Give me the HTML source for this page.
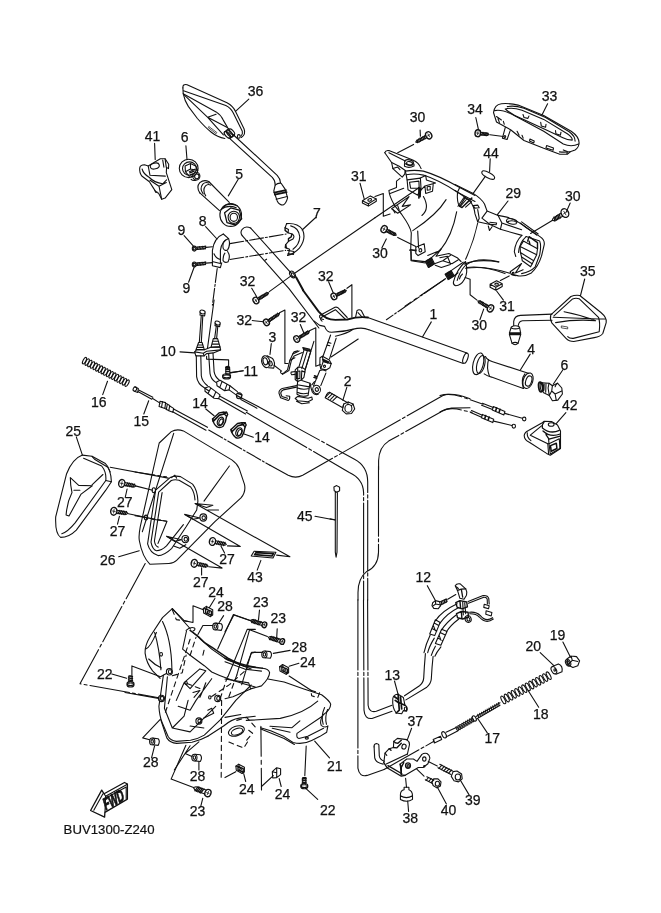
<!DOCTYPE html>
<html><head><meta charset="utf-8"><title>BUV1300-Z240</title>
<style>
html,body{margin:0;padding:0;background:#fff}
svg{display:block;will-change:transform;transform:translateZ(0)}
text{font-family:"Liberation Sans",sans-serif;font-size:14px;fill:#111;stroke:#111;stroke-width:0.25px;text-anchor:middle}
</style></head><body>
<svg width="661" height="913" viewBox="0 0 661 913">
<rect width="661" height="913" fill="#fff"/>
<g fill="none" stroke="#111" stroke-width="1.1" stroke-linecap="round" stroke-linejoin="round">
<text x="63.6" y="833.6" style="text-anchor:start;font-size:13.2px;stroke-width:0.2px" fill="#111">BUV1300-Z240</text>
<path d="M 250.7 228.1 Q 245.3 225.3 242.2 229.3 Q 239.8 232.6 242.2 235.6"/>
<path d="M 250.7 228.1 L 291.4 273.3"/>
<path d="M 242.2 235.6 L 289 288.7 L 318.9 328"/>
<path d="M 296.1 277.3 L 303.2 290.2" stroke-width="2.0"/>
<ellipse cx="292.5" cy="274.5" rx="2.4" ry="3.7" transform="rotate(-35 292.5 274.5)"/>
<ellipse cx="292.9" cy="274.9" rx="1.2" ry="2.2" transform="rotate(-35 292.9 274.9)"/>
<path d="M 265 260.2 L 266.6 259.2"/>
<path d="M 302.8 290 L 318.7 311.6 Q 325.6 319.9 335.4 319.9 L 347.2 319.5 Q 359 316.2 367.9 317.5" stroke-width="1.9"/>
<path d="M 314.2 321.1 L 319.7 325.4 L 324.6 326.4 Q 326.6 332.3 331.5 332.3 Q 345.2 331.7 357 328.4 Q 363.9 327.4 368.8 329.7"/>
<path d="M 335.4 336.2 Q 347.2 333.7 353.1 329.3"/>
<path d="M 323.6 319.5 Q 318.7 318.5 319.7 315.6 L 335 307.3 Q 337.4 306.7 338.9 308.7 L 347.2 317.5"/>
<path d="M 322 321.1 Q 319.7 319.5 321.2 317.5 L 335.4 309.7 L 345.6 319.5"/>
<path d="M 355.5 317.5 L 357 310.7 Q 359 308.7 361.4 310.7 L 364.9 317.5"/>
<path d="M 358 312.6 L 362.5 317.5"/>
<path d="M 367.7 317.5 L 400 328.9 L 466.9 352.9"/>
<path d="M 368.9 329.7 L 400 340.7 L 463.3 363.4"/>
<ellipse cx="465.5" cy="358.2" rx="2.2" ry="5.3" transform="rotate(20 465.5 358.2)"/>
<path d="M 431.3 321.9 L 422.6 336.8"/>
<ellipse cx="478.2" cy="363.8" rx="5.1" ry="11.1" transform="rotate(14 478.2 363.8)"/>
<ellipse cx="480.8" cy="364.5" rx="3.9" ry="9.2" transform="rotate(14 480.8 364.5)"/>
<path d="M 485.4 356.5 Q 487.1 360.1 492.7 361.8 L 529 373.4"/>
<path d="M 484.2 373.9 Q 486.6 375.9 491.5 377.1 L 523.4 388.5"/>
<path d="M 488.6 359.4 Q 486.1 367.4 489.5 376.4"/>
<ellipse cx="528" cy="380.7" rx="4.8" ry="8" transform="rotate(18 528 380.7)"/>
<ellipse cx="528.7" cy="381" rx="2.9" ry="5.3" transform="rotate(18 528.7 381)"/>
<path d="M 524.9 373.9 Q 520.5 379.5 523.4 388.5"/>
<path d="M 530.2 354.1 L 520.5 369.8"/>
<path d="M 550.8 314.9 L 570.9 296.5 Q 575 294.8 579.8 295.5 L 600.9 312.5 Q 607.2 317.8 606.2 322.6 L 602.8 333.5 Q 600.4 336.7 594.3 337.6 L 573.8 341.5 Q 568.9 341.5 566 338.4 L 552 323.1 Q 549.6 319 550.8 314.9 Z"/>
<path d="M 553.9 315.8 L 572.6 298.9 Q 575.7 297.7 579.1 298.7 L 598.5 317.3 Q 600.4 322.6 599.2 331.8 L 573.3 338.4 Q 569.4 338.6 567.7 336.7"/>
<path d="M 553.2 317.3 L 598.5 319 M 564.1 311.7 Q 581 314.9 595.6 320.7 M 555.6 322.6 Q 576.2 319 595.6 320.7 M 598.5 319 L 605.2 319"/>
<path d="M 561.7 326 L 567.7 327 L 567.7 328.9 L 561.7 327.9 Z" stroke-width="0.7"/>
<path d="M 552 314.1 L 520.5 315.4 Q 514.5 315.8 513.7 321.4 L 513.7 325.5"/>
<path d="M 552 320.2 L 522.5 320.7 Q 518.8 321.2 518.3 325.5"/>
<path d="M 511.3 327 Q 515.2 324.6 519.5 327 L 520.5 332.3 L 520.5 335.2 L 518.1 343.2 Q 515.2 346.3 512 343.2 L 509.6 335.2 L 509.6 332.3 Z"/>
<path d="M 509.6 333 L 520.5 333 M 509.6 334.5 L 520.5 334.5" stroke-width="1.6"/>
<path d="M 511.3 327.9 Q 515.2 329.9 519.5 327.9 M 512 343.2 Q 515.2 341.5 518.1 343.2"/>
<path d="M 584.7 279 L 580.5 295.5"/>
<ellipse cx="540.6" cy="387" rx="1.9" ry="4.8" transform="rotate(-8 540.6 387)" stroke-width="1.8"/>
<ellipse cx="542" cy="387" rx="1.7" ry="4.4" transform="rotate(-8 542 387)"/>
<path d="M 542.4 382.9 L 549 383.2 L 552.4 385.8 L 557.5 383.2 L 561.8 388 L 562.4 394 L 557.8 400.1 L 552.4 400.8 L 549.3 395.5 L 543.2 392.6"/>
<path d="M 549 383.2 L 548.1 388 L 549.3 395.5 M 552.4 385.8 L 551.7 391 L 555.1 394 L 561.8 391 M 551.7 391 L 549.3 395.5 M 555.1 394 L 556.3 400.3 M 544.2 384.4 L 543.6 391 M 546 383.8 L 545.7 392.2"/>
<path d="M 557.5 383.2 Q 555.7 384.4 555.1 386.8"/>
<path d="M 562.9 369.8 L 553.2 384.3"/>
<path d="M 182.9 87.9 Q 182.5 83.8 187.1 84.7 L 227 102.8 Q 233.1 106.1 235.8 111.9 L 244 128.8 Q 246.2 134.3 241.3 137.5"/>
<path d="M 182.9 87.9 L 183.2 93.7 Q 184.7 101 188.3 106.4 L 197.4 118.5 Q 205.3 127.6 211.3 132.2 Q 217.4 137.1 224.9 138.5"/>
<path d="M 183.5 90.7 L 225.8 105.4 Q 230.9 107.8 233.3 112.9 L 242.3 131.3 Q 243 133.9 241 135.9"/>
<path d="M 183.2 93.7 L 216.1 111.9 Q 221 114.9 223.4 120.4 L 228.3 128.8"/>
<path d="M 184.4 95.2 L 207.7 117.3 L 227.3 127.6 M 207.7 117.3 L 216.1 114.3 M 207.7 117.3 L 223.4 134.9"/>
<path d="M 209.1 126.7 L 216.8 132.5 L 216.1 133.7 L 208.6 127.9 Z" stroke-width="0.7"/>
<ellipse cx="227.4" cy="134.8" rx="2" ry="4.1" transform="rotate(-42 227.4 134.8)" stroke-width="1.3"/>
<ellipse cx="229.6" cy="133.4" rx="2" ry="4.1" transform="rotate(-42 229.6 133.4)" stroke-width="1.3"/>
<ellipse cx="231.8" cy="132" rx="1.8" ry="3.7" transform="rotate(-42 231.8 132)"/>
<path d="M 224.7 132 L 229 128.5 M 230.2 138.3 L 234.5 135.2"/>
<ellipse cx="238.8" cy="136.4" rx="1.4" ry="1.8"/>
<path d="M 232.5 134 L 277.2 175.3 Q 280.1 178.3 280.5 182.8"/>
<path d="M 229 137.9 L 272.3 177.3 Q 275.2 180.2 275.2 185.1"/>
<path d="M 275.2 185.1 Q 277.8 182.8 281.1 183.2 L 285.1 189.1 L 287.6 197.9 Q 286 203.8 283.1 205 M 275.2 185.1 L 273.8 191 L 277.2 200.9 Q 279.2 205 283.1 205"/>
<path d="M 274.2 192.6 L 286 190.1 M 274.8 194.6 L 286.6 192.2" stroke-width="1.7"/>
<path d="M 276.2 199.3 L 287.2 196.5"/>
<path d="M 139.7 168.1 Q 140.2 164.8 144.5 164.8 L 148.2 166 L 160.3 158.8 L 165.1 158.8 L 168.7 164.2 L 168.5 168.6 L 166.6 167.4 L 166.3 172.7 L 171.8 189.6 L 165.1 198.1 L 161.7 199.3 L 158.6 193.3 L 156 192 L 153.6 188.4 L 149.4 181.8 L 142.1 176.3 Q 139.2 172.9 139.7 168.1 Z"/>
<ellipse cx="154.8" cy="166" rx="4.6" ry="2.9" transform="rotate(-15 154.8 166)"/>
<path d="M 148.2 166 L 150 175.3 L 165.3 176.1 M 142.1 169 Q 143.3 173.9 149.4 177.5 M 149.4 177.5 Q 154.2 182.6 162.7 183.8 L 166.6 179.9 M 150 180.2 L 159 186.2 L 166.3 182.6 M 159 186.2 L 161.7 199.3 M 165.1 158.8 L 166.3 167.4 M 162.7 160 L 163.9 167.2 M 154.8 190.6 L 155.7 192.3 L 156.9 191.8"/>
<ellipse cx="188.7" cy="168.4" rx="9.4" ry="9.2"/>
<ellipse cx="189.5" cy="168.6" rx="7" ry="6.7"/>
<path d="M 185.1 166 L 190.5 163.6 L 195.6 166 L 197.8 170.5 M 185.1 166 L 185.4 171.7 L 189.3 176.3 M 190.5 163.6 L 190.5 169 L 185.4 171.7 M 190.5 169 L 197.8 170.5"/>
<path d="M 189.3 171.7 L 195.4 169 M 191.1 179.3 Q 192.9 181.1 196 180.2"/>
<ellipse cx="196.3" cy="176.1" rx="3.6" ry="3.9"/>
<ellipse cx="196.8" cy="176.3" rx="2.2" ry="2.4"/>
<path d="M 189.8 172.9 L 194.1 171.2 M 190.3 174.9 L 192.9 173.9 M 191 176.8 L 192.9 176.1" stroke-width="1.4"/>
<path d="M 199.8 192.9 Q 195.9 187 199.8 182.7 Q 203.8 179.2 208.7 181.5"/>
<path d="M 208.7 181.5 L 229.3 202.4 M 199.8 192.9 L 219.5 210.6"/>
<path d="M 203.2 193.9 Q 199.2 188.6 202.8 184.1 Q 205.7 181.5 208.7 183.1"/>
<path d="M 205.7 195.9 Q 202 190 205.5 185.9 Q 207.9 183.5 210.6 185.1"/>
<ellipse cx="230.7" cy="215" rx="10.8" ry="11.4"/>
<path d="M 222.4 207.7 Q 228.3 201.8 237.2 205.7 M 220.9 209.7 Q 227.4 204.3 236.2 207.7"/>
<path d="M 224.6 212.8 L 230.7 207.9 L 239.3 210.2 L 241.7 218.9 L 235.6 225 L 227 222.6 Z" stroke-width="1.3"/>
<ellipse cx="233.8" cy="217.3" rx="5.7" ry="6.1"/>
<ellipse cx="233.8" cy="217.3" rx="3.7" ry="4.1"/>
<path d="M 238.2 179.2 L 228.3 195.9"/>
<path d="M 154.6 143.4 L 155.2 159.5"/>
<path d="M 185.9 145.7 L 187 159.5"/>
<path d="M 248.8 99.2 L 235.5 111.3"/>
<path d="M 223.3 234 Q 214 237.9 212.4 250.4 L 212.4 265.8 L 220.4 267.6 L 221.7 262.9"/>
<path d="M 223.3 234 L 228.6 238.6 Q 221.5 241.3 220.4 250.4 L 220.4 262.9"/>
<path d="M 214 253.8 Q 215.8 258.3 220.4 259.5 M 213.1 261.7 L 220.4 263.5"/>
<path d="M 228.6 238.6 Q 230.8 244.7 227.6 249.9 Q 224.5 251.5 223.1 248.1 Q 222.2 242.4 225.4 240.2"/>
<path d="M 227.6 251.5 Q 230.8 256.1 228.1 261.7 Q 224.9 263.5 223.1 260.6 Q 222.7 256.1 224.9 253.1"/>
<path d="M 286.6 223.6 Q 297.5 222.7 302.5 229.5 Q 306.6 239 299.4 248.1 Q 294.1 253.8 287.6 255.4"/>
<path d="M 286.6 223.6 L 285.1 227.7 L 288.5 229.5 L 288 232.7 L 291.9 234 Q 295.3 235.6 293 239 L 288.5 241.3 L 285.7 244.7 L 286.6 248.1 L 289.6 249.3 L 288.5 253.8 L 287.6 255.4"/>
<path d="M 290.7 225.9 Q 298.7 227.7 299.8 236.8 Q 299.4 244.7 293 249.3"/>
<path d="M 285.1 227.7 L 285.1 230.4 L 288 232.7 M 285.7 244.7 L 285.3 247.7 L 286.6 248.1 M 291.9 234 L 291.2 236.8 L 288.5 238.6 L 288.5 241.3" stroke-width="1.4"/>
<path d="M 287.6 250.4 L 293.9 251.5 L 293.5 254.5 L 288 253.6"/>
<ellipse cx="194.3" cy="248.6" rx="2" ry="2.5"/>
<ellipse cx="194.3" cy="248.6" rx="1.1" ry="1.4"/>
<path d="M 196.3 247.2 L 205.6 246.3 M 196.3 249.5 L 205.6 248.6"/>
<path d="M 197.4 249.5 L 198 246.7"/>
<path d="M 198.9 249.4 L 199.5 246.6"/>
<path d="M 200.5 249.2 L 201.1 246.5"/>
<path d="M 202 249.1 L 202.6 246.3"/>
<path d="M 203.6 249 L 204.2 246.2"/>
<path d="M 205.1 248.8 L 205.7 246"/>
<ellipse cx="194.3" cy="264.5" rx="2" ry="2.5"/>
<ellipse cx="194.3" cy="264.5" rx="1.1" ry="1.4"/>
<path d="M 196.3 263.1 L 205.6 262.2 M 196.3 265.4 L 205.6 264.5"/>
<path d="M 197.4 265.4 L 198 262.6"/>
<path d="M 198.9 265.3 L 199.5 262.5"/>
<path d="M 200.5 265.1 L 201.1 262.3"/>
<path d="M 202 265 L 202.6 262.2"/>
<path d="M 203.6 264.8 L 204.2 262.1"/>
<path d="M 205.1 264.7 L 205.7 261.9"/>
<path d="M 206.1 247.4 L 212.4 246.8 M 229.9 243.6 L 286.2 234 M 206.1 263.1 L 212.4 262.6 M 229.9 259.5 L 285.7 250.4" stroke-dasharray="14 2 2 2"/>
<path d="M 217.2 268.5 L 212.4 305.1" stroke-dasharray="14 2 2 2"/>
<path d="M 205.6 226.6 L 217 239 M 184.1 235.6 L 193.2 245.8 M 188.6 282.2 L 194.3 266.7 M 315.7 217.5 L 302.1 230"/>
<ellipse cx="255.9" cy="300.5" rx="2.7" ry="3.4" transform="rotate(-31.6 255.9 300.5)" stroke-width="1.4"/>
<path d="M 255.1 299.2 L 256.7 301.8 M 254.8 301.2 L 256.9 299.9" stroke-width="0.8"/>
<path d="M 258.6 300.1 L 268.1 294 L 268.6 292.7 L 267.2 292.6 L 257.5 298.3"/>
<path d="M 259.8 299.6 L 259.1 297" stroke-width="1.25"/>
<path d="M 261.1 298.9 L 260.4 296.2" stroke-width="1.25"/>
<path d="M 262.4 298.1 L 261.7 295.4" stroke-width="1.25"/>
<path d="M 263.7 297.3 L 263 294.6" stroke-width="1.25"/>
<path d="M 265 296.5 L 264.3 293.8" stroke-width="1.25"/>
<path d="M 266.2 295.7 L 265.5 293.1" stroke-width="1.25"/>
<path d="M 267.5 294.9 L 266.8 292.3" stroke-width="1.25"/>
<ellipse cx="266.4" cy="322.3" rx="2.7" ry="3.4" transform="rotate(-33.7 266.4 322.3)" stroke-width="1.4"/>
<path d="M 265.5 321 L 267.2 323.6 M 265.4 323 L 267.4 321.6" stroke-width="0.8"/>
<path d="M 269.1 321.8 L 279 314.9 L 279.5 313.6 L 278.1 313.5 L 267.9 320"/>
<path d="M 270.3 321.3 L 269.5 318.7" stroke-width="1.25"/>
<path d="M 271.7 320.4 L 270.9 317.8" stroke-width="1.25"/>
<path d="M 273 319.5 L 272.2 316.9" stroke-width="1.25"/>
<path d="M 274.4 318.5 L 273.6 315.9" stroke-width="1.25"/>
<path d="M 275.8 317.6 L 275 315" stroke-width="1.25"/>
<path d="M 277.1 316.7 L 276.3 314.1" stroke-width="1.25"/>
<path d="M 278.5 315.8 L 277.7 313.2" stroke-width="1.25"/>
<ellipse cx="296.7" cy="339" rx="2.7" ry="3.4" transform="rotate(-31 296.7 339)" stroke-width="1.4"/>
<path d="M 295.9 337.7 L 297.5 340.3 M 295.7 339.6 L 297.7 338.4" stroke-width="0.8"/>
<path d="M 299.5 338.6 L 308.9 332.7 L 309.4 331.4 L 308 331.2 L 298.4 336.8"/>
<path d="M 300.7 338.2 L 300 335.5" stroke-width="1.25"/>
<path d="M 301.9 337.4 L 301.3 334.8" stroke-width="1.25"/>
<path d="M 303.2 336.6 L 302.5 334" stroke-width="1.25"/>
<path d="M 304.5 335.9 L 303.8 333.2" stroke-width="1.25"/>
<path d="M 305.8 335.1 L 305.1 332.4" stroke-width="1.25"/>
<path d="M 307.1 334.3 L 306.4 331.7" stroke-width="1.25"/>
<path d="M 308.4 333.6 L 307.7 330.9" stroke-width="1.25"/>
<ellipse cx="333.9" cy="296.4" rx="2.7" ry="3.4" transform="rotate(-25.9 333.9 296.4)" stroke-width="1.4"/>
<path d="M 333.3 295 L 334.6 297.7 M 332.8 296.9 L 335 295.8" stroke-width="0.8"/>
<path d="M 336.7 296.2 L 345.7 291.6 L 346.3 290.4 L 344.9 290.1 L 335.8 294.3"/>
<path d="M 337.9 295.9 L 337.5 293.2" stroke-width="1.25"/>
<path d="M 339.1 295.3 L 338.7 292.6" stroke-width="1.25"/>
<path d="M 340.3 294.7 L 339.9 292" stroke-width="1.25"/>
<path d="M 341.5 294.1 L 341 291.4" stroke-width="1.25"/>
<path d="M 342.7 293.6 L 342.2 290.9" stroke-width="1.25"/>
<path d="M 343.8 293 L 343.4 290.3" stroke-width="1.25"/>
<path d="M 345 292.4 L 344.6 289.7" stroke-width="1.25"/>
<path d="M 279.5 312.7 L 284.9 310 L 284.9 363.5 L 288 363.5"/>
<path d="M 309.4 330.8 L 315.8 327.8 L 315.8 366.2 L 320.3 364.4"/>
<path d="M 252.2 320.5 L 263.5 321.8 M 300.3 324.5 L 304 333.2 M 271.3 343.6 L 270 354.4 M 243.2 370.8 L 230.4 372.6"/>
<ellipse cx="265.8" cy="361.7" rx="4" ry="6" transform="rotate(-15 265.8 361.7)"/>
<path d="M 267.1 355.7 L 272.6 358.6 Q 275.8 362.6 273.7 368.1 L 268.6 367.7"/>
<ellipse cx="270.4" cy="363.5" rx="1.8" ry="2.5" transform="rotate(-15 270.4 363.5)"/>
<ellipse cx="265.3" cy="361.3" rx="2.2" ry="3.6" transform="rotate(-15 265.3 361.3)"/>
<path d="M 274 365.3 L 281.6 371.1" stroke-dasharray="12 2 2 2"/>
<path d="M 280.6 371.5 Q 280.1 373.1 281.9 373.7 L 283.8 372.9 L 287.5 369.9 L 289.9 360.2 L 292.8 353.9 L 299.1 350.9"/>
<path d="M 282.5 374.4 L 288.9 370.5 L 291.4 360.4 L 294.1 356 L 302.3 352.5"/>
<path d="M 292.8 353.9 L 294.1 351.9 L 297.7 350.9 M 289.9 360.2 L 294.9 357.8"/>
<path d="M 302.8 347.5 L 310 349.3 L 310.7 351.4 L 303.7 349.8 Z" fill="#333"/>
<path d="M 303.9 350.4 L 298.8 367.3 M 310.7 351.7 L 305.2 369.9 M 307.3 350.9 L 301.8 368.7"/>
<path d="M 295.2 369.9 L 297.7 367.3 L 301.8 367.3 L 305.2 369.4 L 304.9 372.1 L 301.8 371 L 301.3 380 L 297.7 381.6 L 295.2 379.5 Z"/>
<path d="M 297.7 367.3 L 297.7 381.6 M 296.5 371.5 L 299.9 371 L 299.9 378.4 L 296.5 378.9 Z M 301.8 371 L 304.9 372.1 L 303.9 377.4 L 301.3 380"/>
<path d="M 291.2 372.1 L 295.2 371.5 M 291.7 374.7 L 295.2 374.4 M 291.2 372.1 Q 290.3 373.3 291.7 374.7"/>
<path d="M 297.7 381.6 L 297.3 384.8 L 309.4 386.9 L 310 383.2 L 301.8 380.5"/>
<path d="M 297.3 384.8 L 297 394.3 Q 301.8 397.5 308.1 395.4 L 309.4 386.9 M 297.7 388 Q 302.8 390.1 309 388.5 M 297.3 392.2 Q 302.3 394.8 308.3 393"/>
<path d="M 295.2 398.5 L 297.7 396.4 L 308.1 398.3 L 311.8 397 L 312.4 399.6 L 308.1 401.7 L 297.7 400.7 Z M 296.5 401.2 L 301.8 403.8 L 309.4 402.8"/>
<path d="M 296.5 385.6 L 282.2 388.5 Q 278.7 390.1 279 393.2 L 280.6 397.7 L 288.2 400.4 Q 290.1 399.6 289.7 396.2 L 286.1 395.8"/>
<path d="M 296.5 387.1 L 283.2 389.9 Q 280.6 391.1 280.8 393.5 L 281.9 396.4 L 287.5 398.3"/>
<ellipse cx="316.6" cy="389.5" rx="3.8" ry="4.2" transform="rotate(-20 316.6 389.5)"/>
<ellipse cx="316.8" cy="389.5" rx="1.6" ry="1.9" transform="rotate(-20 316.8 389.5)"/>
<path d="M 310 383.2 Q 310.8 388 312.4 392.2 Q 314.5 395.4 318.2 394.3 M 311.8 384.8 L 314.5 381.6"/>
<path d="M 313.6 385.6 L 319.8 370.5 M 320.8 385.6 L 325.9 373.1 M 319.8 370.5 Q 323 369.1 325.9 371"/>
<path d="M 313.9 377.4 L 316.6 378.2 M 314.5 375.8 L 316.4 376.5" stroke-width="1.5"/>
<path d="M 320 357.8 L 322.4 356.2 L 329.3 359.9 L 331.2 363.6 L 329.8 367.8 L 326.1 369.9 L 320.8 368.7 L 319.8 364.7 Z"/>
<path d="M 322.4 356.2 L 323.2 361.5 L 320.8 368.7 M 323.2 361.5 L 331.2 363.6"/>
<path d="M 323 359.6 L 328.5 362 M 323.5 360.9 L 327.7 362.7" stroke-width="1.8"/>
<ellipse cx="324.5" cy="366.3" rx="1" ry="1.2"/>
<path d="M 323 356.2 L 330.6 335 M 329.5 358.8 L 336.2 338.2"/>
<path d="M 328 342.4 L 330.9 343.3 M 327.2 345.1 L 329.8 345.8"/>
<path d="M 313.9 341.4 L 305.2 369.4"/>
<path d="M 326.6 394.8 L 325.2 397.8 L 342.3 407.6 M 329.5 392.3 L 347.2 402.5"/>
<path d="M 326.6 394.8 Q 327.5 392.3 329.5 392.3"/>
<path d="M 325.9 396.6 L 330 392.6"/>
<path d="M 328.2 397.9 L 332.3 393.9"/>
<path d="M 330.6 399.3 L 334.7 395.2"/>
<path d="M 332.9 400.6 L 337.1 396.6"/>
<path d="M 343.7 404.1 L 348.2 402.1 L 353.1 404.1 L 354.7 409 L 351.5 413.5 L 346.2 413.9 L 342.3 410.4 Z"/>
<ellipse cx="348.4" cy="408.4" rx="3.5" ry="3.9"/>
<path d="M 343.7 404.1 L 342.9 407.2 M 348.2 402.1 L 347.8 404.5 M 353.1 404.1 L 351.5 405.6"/>
<path d="M 346.8 387.4 L 342.9 400.1"/>
<path d="M 384.8 152.7 Q 385.6 150 388.9 150.6 L 412.8 160 Q 418.9 162.5 421.1 168.6"/>
<path d="M 384.8 152.7 L 391.6 162.5 L 392.9 168.6 L 402.2 177.2 L 404.7 174.2 L 405.3 170.5"/>
<path d="M 388.9 152.7 L 405.3 161 M 392.9 168.6 L 397.7 167.1 L 400 169.6 M 391.6 162.5 L 399.2 166.3 L 405.3 170.5"/>
<ellipse cx="409" cy="162.5" rx="4.5" ry="2.7" transform="rotate(10 409 162.5)"/>
<ellipse cx="409.5" cy="163.3" rx="3" ry="1.7" transform="rotate(10 409.5 163.3)"/>
<path d="M 404.5 163.6 L 404.5 166.3 Q 409 168.6 414 166 L 414 164"/>
<path d="M 405.3 171.1 Q 414.3 169.6 423.4 171.1 Q 438.5 175.4 459.7 187.5 L 475 195.4"/>
<path d="M 406.2 174.8 Q 414.3 173.1 423.4 175.1 Q 438.5 179.9 457.5 192.3 L 475 201.4"/>
<path d="M 405.3 171.1 L 406.2 174.8 L 407.1 179.9"/>
<path d="M 457.5 192.3 L 459.7 187.5 M 457.5 192.3 Q 456.7 202.6 459.7 206.4 L 465.8 196.6"/>
<path d="M 459.7 206.4 L 462 207.5 L 471.8 198.1" stroke-width="1.5"/>
<path d="M 407.1 179.9 L 420.4 178.1 L 421.1 189.8 L 417.4 195.1 L 408 189.8 Z"/>
<path d="M 409.5 182.2 L 418.9 181.1 L 419.2 188.2 L 410.6 188.2 Z"/>
<path d="M 420.4 178.1 L 425.7 175.4 L 426.4 179.9 L 435.5 183 L 424.9 186 L 421.1 189.8 M 424.9 186 L 425.7 193.5 L 432.5 191.3 L 433.2 184.5"/>
<path d="M 427.2 186.7 L 430.2 186.3 L 430.2 189.8 L 427.2 190.2 Z"/>
<path d="M 418.9 187.5 L 418.9 198.1 M 420.4 188.2 L 420.1 196.6" stroke-width="1.6"/>
<path d="M 400 178.4 L 396.5 181.1 L 396.5 187.5 L 388.9 190.5 Q 389.4 196.6 394.7 205.6 L 401.9 214.7 Q 410.6 226.8 411.3 232.9 L 410.7 249.5 L 411.3 260.1 L 427.2 261.9"/>
<path d="M 390.1 193.5 L 403.7 188.2 M 423.4 196.6 Q 430.2 208.7 421.9 215.5 M 446.1 199.6 Q 437 214.7 412.8 230.6 M 456.7 211.7 Q 452.2 235.9 440.1 250.3"/>
<path d="M 417.7 231.1 L 418.6 248"/>
<path d="M 415.8 247.2 L 424.2 243.8 L 425.2 251.8 L 418.1 255.6 L 415.8 253.3 Z"/>
<ellipse cx="420.4" cy="250.3" rx="1.4" ry="1.7"/>
<path d="M 410.7 249.5 L 415.8 251"/>
<path d="M 391.6 208.7 L 409 196.6 L 402.2 206.4 L 410.6 204.9 L 397.7 213.2 Z"/>
<path d="M 393.2 209.9 L 395 212.9 M 397.7 205.6 L 399.2 210.2"/>
<ellipse cx="428.7" cy="135.3" rx="2.9" ry="3.7" transform="rotate(152.1 428.7 135.3)" stroke-width="1.4"/>
<path d="M 429.5 136.8 L 427.9 133.8 M 429.8 134.7 L 427.6 135.9" stroke-width="0.8"/>
<path d="M 425.7 135.5 L 416.5 140.7 L 415.8 142.1 L 417.4 142.4 L 426.8 137.7"/>
<path d="M 424.4 135.9 L 425 138.9" stroke-width="1.25"/>
<path d="M 422.9 136.7 L 423.5 139.7" stroke-width="1.25"/>
<path d="M 421.5 137.5 L 422.1 140.4" stroke-width="1.25"/>
<path d="M 420 138.2 L 420.6 141.2" stroke-width="1.25"/>
<path d="M 418.6 139 L 419.2 142" stroke-width="1.25"/>
<path d="M 417.2 139.8 L 417.7 142.7" stroke-width="1.25"/>
<ellipse cx="384.1" cy="229.1" rx="2.9" ry="3.7" transform="rotate(26.6 384.1 229.1)" stroke-width="1.4"/>
<path d="M 384.8 227.6 L 383.3 230.6 M 382.9 228.5 L 385.2 229.7" stroke-width="0.8"/>
<path d="M 386 231.4 L 394.7 235.5 L 396.2 235.1 L 395.5 233.7 L 387.1 229.2"/>
<path d="M 387.1 232.2 L 389.2 230" stroke-width="1.25"/>
<path d="M 388.4 232.9 L 390.5 230.7" stroke-width="1.25"/>
<path d="M 389.7 233.5 L 391.8 231.3" stroke-width="1.25"/>
<path d="M 391 234.2 L 393 231.9" stroke-width="1.25"/>
<path d="M 392.2 234.8 L 394.3 232.6" stroke-width="1.25"/>
<path d="M 393.5 235.4 L 395.6 233.2" stroke-width="1.25"/>
<path d="M 413.6 144.4 L 397.7 152.7 M 397.7 237.4 L 415.8 246.5" stroke-dasharray="30 4 3 4"/>
<path d="M 375 196.6 L 383.3 193.5 L 383.3 216.2 L 390.1 214"/>
<path d="M 375 217.7 L 418.9 187.8"/>
<path d="M 420.1 130 L 420.4 136.1 M 386.3 238.9 L 381.8 248"/>
<path d="M 455 184.4 L 473.2 193.4 Q 481.5 198.7 484.5 204 L 487.1 211.1 L 498.1 215.4 L 505.7 216.9 Q 515.5 219.2 526.1 227.5 L 540 236.6 Q 545.5 240.3 544 245.6 L 541.5 256.2 Q 538.2 266.8 531.4 272.9 Q 524.6 276.7 518.5 275.9 L 511.3 274.4"/>
<path d="M 455 190.4 L 469.4 200.3 Q 474.4 206.3 475 213.9 L 477.7 221.7 L 490.1 224.5 L 500.4 229.3 L 521.9 235.4"/>
<path d="M 458 206.3 L 464.1 197.2 L 471.6 201.8 L 465.6 207.1 M 460.3 206.3 L 466.3 199.5"/>
<path d="M 473.2 205.6 L 477.7 205.1 L 479.2 207.8 L 474.7 208.1 Z M 477.7 209.6 L 479.2 218.4 L 477.7 221.7"/>
<path d="M 487.1 211.1 L 481.9 218.1 L 490.1 224.5 M 489.8 222.2 L 496.6 223 L 496.1 224.8 L 490.1 224.2 M 488.3 226 L 489.5 230.5 L 492.1 226.7"/>
<path d="M 498.1 215.4 L 501.9 223 L 500.4 229.3 M 501.9 223 L 521.6 229.8"/>
<ellipse cx="511.7" cy="221.4" rx="5.3" ry="2.6" transform="rotate(12 511.7 221.4)"/>
<path d="M 507.2 222.2 Q 511.7 219.2 516.7 222.2"/>
<path d="M 520.1 223 L 536.7 235.1 M 521.6 221.9 L 538.2 234"/>
<path d="M 521.9 235.4 Q 515.5 241.1 514.3 251.7 L 515.8 256.5 M 526.1 236.6 Q 519.3 242.6 518.5 252.5"/>
<path d="M 526.1 236.6 L 539.7 241.1 Q 541.5 245.6 539.7 254.7 L 535.2 266.8 Q 530.6 271.7 521.6 273.6"/>
<path d="M 520.1 246.4 L 523.4 241.1 L 537.5 248.7 L 536.7 254.7 Z M 520.1 246.4 L 520.4 252.5 L 533.7 260.8 L 536.7 254.7 M 520.4 252.5 L 521.6 257 L 532.2 263.8 L 533.7 260.8"/>
<path d="M 527.6 241.1 L 529.1 236.6 L 537.5 242.6 L 537.5 248.7 M 529.1 241.1 L 529.9 244.1" stroke-width="1.4"/>
<path d="M 521.6 257 L 522.3 260.8 L 530.6 266.8 L 532.2 263.8"/>
<path d="M 464.4 264.1 Q 477.7 258.5 498.9 262 M 465.6 268.3 Q 485.3 265.3 509.8 273.2"/>
<path d="M 477.7 223 Q 473.9 241.1 465.6 259.3"/>
<path d="M 511.3 274.4 L 510.2 271.7 L 521.6 263.5 L 515.5 272.9 L 523.1 269.8 M 511.3 274.4 L 515.5 275.6"/>
<ellipse cx="513.2" cy="273.2" rx="0.9" ry="0.8"/>
<path d="M 490.1 284.2 L 496.6 280.7 L 502.2 283.8 L 502.2 286.5 L 495.8 290.3 L 490.1 287.2 Z M 490.1 284.2 L 495.8 287.2 L 502.2 283.8 M 495.8 287.2 L 495.8 290.3"/>
<ellipse cx="496.6" cy="284.2" rx="1.8" ry="1.1"/>
<path d="M 500.4 280.4 L 509.2 275.9" stroke-dasharray="30 4 3 4"/>
<path d="M 496.6 291 L 503.4 300.1"/>
<path d="M 508 201 L 497.4 214.6 M 485.3 176.4 L 473.2 193.4 M 551.8 220.7 L 530.6 233.5"/>
<path d="M 425.4 261.5 L 431.5 257.7 L 434.5 263.7 L 428.4 267.5 Z" fill="#555"/>
<path d="M 426.4 260.8 L 429.5 266.9" stroke-width="1.3"/>
<path d="M 427.4 260.2 L 430.5 266.3" stroke-width="1.3"/>
<path d="M 428.4 259.6 L 431.5 265.6" stroke-width="1.3"/>
<path d="M 429.5 259 L 432.5 265" stroke-width="1.3"/>
<path d="M 430.5 258.3 L 433.5 264.4" stroke-width="1.3"/>
<path d="M 445.1 274.3 L 451.1 270.6 L 454.2 275.8 L 448.1 279.6 Z" fill="#555"/>
<path d="M 446.1 273.7 L 449.1 279" stroke-width="1.3"/>
<path d="M 447.1 273.1 L 450.1 278.4" stroke-width="1.3"/>
<path d="M 448.1 272.4 L 451.1 277.7" stroke-width="1.3"/>
<path d="M 449.1 271.8 L 452.2 277.1" stroke-width="1.3"/>
<path d="M 450.1 271.2 L 453.2 276.5" stroke-width="1.3"/>
<path d="M 431.5 257.7 L 441.3 248.6 L 436 256.2 L 448.9 253.5 L 457.2 257.7 L 461 261.5 M 427.7 255.4 L 437.5 251.6 M 434.5 263.7 L 442.8 260.7 L 450.4 255.4 M 442.8 260.7 L 451.9 263.7 L 458 260 M 439.8 257.7 L 447.4 256.2 L 450.4 263.7 M 451.1 270.6 L 463.2 262.2 M 454.2 275.8 L 458 272.8 M 435.3 265.3 L 441.3 267.5 L 450.4 264.5"/>
<path d="M 453.4 282.2 Q 456.4 269.8 465.5 261.5 Q 468.5 272.8 464.3 279.6 Q 461 285.7 455.7 285.7 Q 453.1 284.9 453.4 282.2 Z"/>
<path d="M 457.2 280.4 Q 459.5 272.1 464.8 266 M 459.5 278.9 Q 460.2 275.8 462.5 274"/>
<path d="M 465.5 265.3 Q 477.6 256.2 498.8 261.9 M 466.3 267.5 Q 483.7 265.3 505 273.6"/>
<path d="M 444.8 279.2 L 405 306.1" stroke-dasharray="30 4 3 4"/>
<path d="M 465.2 277.4 L 470.1 279.2 L 470.1 294.8 L 477 300.1"/>
<ellipse cx="490.5" cy="308.4" rx="2.9" ry="3.7" transform="rotate(-149.4 490.5 308.4)" stroke-width="1.4"/>
<path d="M 489.6 309.8 L 491.3 306.9 M 491.6 309 L 489.4 307.7" stroke-width="0.8"/>
<path d="M 488.7 305.9 L 479.5 300.7 L 477.9 301 L 478.5 302.4 L 487.5 308"/>
<path d="M 487.7 305 L 485.4 307.1" stroke-width="1.25"/>
<path d="M 486.2 304.2 L 484 306.2" stroke-width="1.25"/>
<path d="M 484.8 303.4 L 482.6 305.4" stroke-width="1.25"/>
<path d="M 483.4 302.5 L 481.2 304.6" stroke-width="1.25"/>
<path d="M 482 301.7 L 479.8 303.7" stroke-width="1.25"/>
<path d="M 480.6 300.9 L 478.4 302.9" stroke-width="1.25"/>
<path d="M 483.7 309.1 L 479.9 319.7"/>
<path d="M 409.5 250.1 L 416.3 250.1 M 411.1 251.6 L 411.1 260.7 L 425.4 263"/>
<path d="M 493.5 112.5 Q 494.5 104.7 501.4 103.7 Q 510.2 103.1 518.1 105.1 L 543.7 115.5 L 571.2 131.2 Q 579.1 136.5 579.1 143 Q 578.7 147.9 575.1 149.9 Q 569.2 152.9 559.4 151.9"/>
<path d="M 493.5 112.5 L 496.5 122 L 510.6 129.8 L 524 140.5 L 543.7 148.3 L 559.8 154.2 L 567.3 154.2 L 570.2 151.9"/>
<path d="M 494.5 110.6 Q 502.4 108.6 516.1 116.5 L 543.7 131.2 L 563.3 144 Q 571.2 147.5 578.7 144"/>
<path d="M 505.3 109 Q 512.2 107 522 110.2 L 543.7 119.4 L 567.3 133.8 Q 572.8 137.7 572.2 140.1 Q 567.3 140.1 562.9 137.7 L 543.7 128.7 L 522 118.8 Q 511.2 114.5 505.3 109 Z"/>
<path d="M 507.3 106.6 Q 514.2 105.1 524 108.2 L 545.6 117.5 L 569.2 131.8 Q 575.1 136.1 575.1 141.1"/>
<path d="M 523 114.5 L 524 117.5 L 527.9 118.4 L 528.9 116.1 M 540.7 122.4 L 541.3 125.9 L 545.6 127.3 L 546 124.3 M 555.5 130.6 L 555.9 133.8 L 560.4 135.2 L 561 132.2"/>
<path d="M 496.5 116.5 L 501.4 120 M 498 118.8 L 499.4 122.4 M 503.4 121.4 L 504.3 124.3 M 517.1 131.2 L 519.1 135.2 M 529.9 139.1 L 534.2 141.1 L 533.8 143 L 529.5 141.1 Z M 546.6 145.6 L 553.5 147.9 L 553.1 150.3 L 546 147.9 Z M 563.3 149.9 L 567.3 151.5 L 566.9 153.8"/>
<path d="M 522 135.2 L 523.2 138.1"/>
<path d="M 505.3 127.3 L 502.4 138.1 L 507.1 139.5 L 510.2 130.6"/>
<ellipse cx="504.9" cy="136.5" rx="0.8" ry="1"/>
<ellipse cx="477.8" cy="133.2" rx="2.8" ry="3.5" transform="rotate(7 477.8 133.2)" stroke-width="1.4"/>
<path d="M 478 131.6 L 477.6 134.7 M 476.6 133 L 479 133.3" stroke-width="0.8"/>
<path d="M 480.2 134.7 L 487.7 135.4 L 489 134.6 L 487.9 133.5 L 480.5 132.3"/>
<path d="M 481.5 135.1 L 482.7 132.4" stroke-width="1.25"/>
<path d="M 482.8 135.2 L 484 132.5" stroke-width="1.25"/>
<path d="M 484.1 135.4 L 485.3 132.7" stroke-width="1.25"/>
<path d="M 485.4 135.5 L 486.5 132.8" stroke-width="1.25"/>
<path d="M 486.6 135.7 L 487.8 133" stroke-width="1.25"/>
<path d="M 490 134.8 L 503.4 136.5" stroke-dasharray="20 3 3 3"/>
<path d="M 547.6 103.7 L 541.7 115.5 M 475.8 117.5 L 478.4 129.3 M 490.2 158.8 L 489.6 171.5 M 570.2 203 L 566.3 211.9"/>
<ellipse cx="488.2" cy="175.1" rx="7.1" ry="2.6" transform="rotate(28 488.2 175.1)"/>
<path d="M 524.2 435.4 Q 524.6 432.2 528.5 430.4 L 541.8 423.1 L 544.2 421.3 L 551.5 421.6 L 557.5 424.9 L 560.5 431 L 560.5 448.5 L 550.3 455.2 L 546.6 453.4 L 529.7 442.5 Q 524.2 439.8 524.2 435.4 Z"/>
<path d="M 530.3 435.2 L 541.5 425.8 M 530.3 435.2 L 547.8 443.7 L 548.6 454 M 527.3 432.8 Q 526.7 437.6 530.9 440.6"/>
<ellipse cx="551.2" cy="424.5" rx="2.9" ry="1.8"/>
<path d="M 544.2 421.9 Q 541.8 424.3 542.4 427.9 Q 550.3 434.6 559.3 430.4 M 543 431 Q 550.3 437.9 560.2 434 M 546 434.6 L 549 439.1 L 560.2 436.2" stroke-width="1.3"/>
<path d="M 549 443.7 L 559.3 438.8 L 559.9 448.5 L 550.3 454 Z"/>
<path d="M 550.5 445.6 L 556.3 443.2 L 556.9 448.5 L 551.2 451.2 Z" stroke-width="1.5"/>
<path d="M 547.8 443.7 L 549 443.7 M 548.6 439.1 L 549 443.7"/>
<path d="M 565.9 412.7 L 556.2 423.6"/>
<path d="M 482.4 403.2 L 493.3 407.6 M 481.6 405.2 L 492.5 409.5"/>
<path d="M 493.3 406.6 L 504.9 411.5 L 503.9 414.9 L 492.3 410 Z"/>
<path d="M 496.6 407.8 L 495.7 410.7 M 500 409.3 L 499.1 412.2" stroke-width="1.6"/>
<path d="M 504.9 413.4 L 522.3 418.2"/>
<ellipse cx="524.2" cy="419" rx="1.7" ry="1.9"/>
<path d="M 471.5 410.5 L 482.4 415.3 M 470.7 412.4 L 481.6 417.3"/>
<path d="M 482.4 414.4 L 493.7 419.2 L 492.8 422.6 L 481.4 417.8 Z"/>
<path d="M 485.7 415.6 L 484.8 418.5 M 489.1 417 L 488.2 419.9" stroke-width="1.6"/>
<path d="M 493.7 421.1 L 511.9 425.5"/>
<ellipse cx="513.8" cy="426.2" rx="1.7" ry="1.9"/>
<path d="M 440 395.5 Q 449.7 392.6 461.8 396.9 L 483.1 404.2 M 440 412 Q 447.3 407.6 456.9 409 L 472 412.4" stroke-dasharray="22 3 3 3"/>
<ellipse cx="564.9" cy="213.1" rx="3.6" ry="4.5" transform="rotate(149.9 564.9 213.1)" stroke-width="1.4"/>
<path d="M 565.9 214.9 L 563.8 211.3 M 566.2 212.3 L 563.5 213.9" stroke-width="0.8"/>
<path d="M 561.1 213.3 L 553 218.4 L 552.2 220.4 L 554.3 220.7 L 562.8 216.2"/>
<path d="M 559.3 214 L 560.3 218.1" stroke-width="1.25"/>
<path d="M 557.9 214.8 L 558.9 218.9" stroke-width="1.25"/>
<path d="M 556.6 215.6 L 557.6 219.6" stroke-width="1.25"/>
<path d="M 555.2 216.4 L 556.2 220.4" stroke-width="1.25"/>
<path d="M 553.9 217.1 L 554.9 221.2" stroke-width="1.25"/>
<path d="M 258.1 406.5 L 354.5 459.3 Q 367.7 466.3 367.7 482.1 L 367.7 600" stroke-dasharray="70 2.5 3 2.5"/>
<path d="M 246.2 412.3 L 349.3 472.4 Q 363.3 478.9 363.6 492.6 L 363.6 600" stroke-dasharray="70 2.5 3 2.5"/>
<path d="M 470 407.8 L 451.5 408.1 Q 447 408.7 442.5 411.1 L 388.6 441.1 Q 378.9 447.2 378.6 460.8 L 378.6 469.8" stroke-dasharray="70 2.5 3 2.5"/>
<path d="M 378.5 466.3 L 378.5 552.2 Q 378.2 566.2 366.8 571.4 Q 358 578.4 358 592.5 L 358 600" stroke-dasharray="70 2.5 3 2.5"/>
<path d="M 270 465.3 L 288.2 475.3 Q 295.7 478.9 302.7 475.3 L 442.5 395.7 Q 451.5 391.8 470 398.7" stroke-dasharray="70 2.5 3 2.5"/>
<path d="M 367.6 599.9 L 368.1 705.2 Q 369 713 376.3 711.3 L 392 705.2" stroke-dasharray="70 2.5 3 2.5"/>
<path d="M 363.5 599.9 L 364 710.1 Q 364.7 719.3 372 718.5 L 392 711.3" stroke-dasharray="70 2.5 3 2.5"/>
<path d="M 357.9 599.9 L 357.9 768.2 Q 359.4 777.4 367.1 775.4 L 384.1 769.4" stroke-dasharray="70 2.5 3 2.5"/>
<path d="M 333.9 487 L 336.7 485.6 L 339.6 487.3 L 339.6 490.8 L 337 492.2 L 334.2 490.8 Z M 335.3 491.2 L 335.3 552.2 L 336.1 557.1 L 337 552.2 L 337.4 491.9"/>
<path d="M 330 518.9 L 334.9 519.7"/>
<path d="M 315 516.3 L 335 520"/>
<ellipse cx="202.5" cy="312" rx="2.7" ry="1.8" transform="rotate(15 202.5 312)"/>
<path d="M 200.3 313 L 200 315 L 204.6 316 L 205 313.3"/>
<path d="M 201.3 315.3 L 199.3 342.5 M 202.8 315.6 L 201.3 342.5"/>
<path d="M 198.6 342.5 L 202.1 342.5 L 204.3 349.6 L 196 349.6 Z M 198 345 L 203 345 M 197 347.4 L 203.6 347.4"/>
<ellipse cx="217.6" cy="323" rx="2.7" ry="1.8" transform="rotate(20 217.6 323)"/>
<path d="M 215.3 323.6 L 215 325.6 L 219.6 326.6 L 220 324.3"/>
<path d="M 216.3 326 L 214.6 338.6 M 217.8 326.3 L 216.6 338.6"/>
<path d="M 213.3 338.6 L 217.6 338.6 L 220 346.9 L 211 347.3 Z M 212.8 341.3 L 218.6 341.3 M 212 344.1 L 219.3 344.1"/>
<path d="M 194.7 351.9 L 196.6 349.6 L 205 349.6 L 210.8 347.3 L 220 346.9 L 220.6 349.9 L 213.3 352.9 L 206.6 353.6 L 204.1 355.9 L 195.8 355.9 Z"/>
<path d="M 194.7 351.9 L 203.3 353.3 L 206.6 351.3 L 220.6 349.9 M 203.3 353.3 L 204.1 355.9"/>
<path d="M 196.3 355.9 L 196.6 376.6 Q 197.5 384.1 205 388.2 L 208.6 390.7"/>
<path d="M 200.8 355.9 L 201.3 375.8 Q 202 381.6 207.5 385.7"/>
<path d="M 208.6 353.6 L 210 373.3 Q 210.8 379.1 215.8 382.4"/>
<path d="M 213 353.3 L 214.1 371.6 Q 215 376.9 219.1 379.9"/>
<path d="M 205 387.9 L 209.1 386.6 L 220 394.9 L 218.6 398.6 L 214.1 398.2 L 205 391.2 Z M 210.8 387.9 L 208.3 392.9 M 215.8 391.9 L 213.3 397.4"/>
<path d="M 216.6 381.9 L 220 380.2 L 229.9 385.7 L 229.1 389.9 L 224.6 390.7 L 217 385.7 Z M 222 381.6 L 220 386.9 M 226.9 384.6 L 225 389.9"/>
<path d="M 229.9 385.7 L 237.4 391.6 M 229.1 389.9 L 235.8 394.6"/>
<ellipse cx="239.1" cy="395.7" rx="2.7" ry="3"/>
<path d="M 237.4 393.2 L 241.9 394.9 M 236.9 395.7 L 241.3 397.9" stroke-width="1.5"/>
<path d="M 220 396.2 L 247.4 411 M 218.6 398.6 L 245.6 414"/>
<path d="M 241.6 397.9 L 258.2 406.5 M 240.8 399.6 L 256.9 408.2"/>
<path d="M 225.8 367.4 L 229.6 367.4 L 229.9 374.1 L 225.8 374.1 Z"/>
<ellipse cx="227.6" cy="367.4" rx="2" ry="1"/>
<ellipse cx="226.6" cy="375.8" rx="4" ry="2"/>
<ellipse cx="226.6" cy="376.9" rx="4" ry="2"/>
<path d="M 225.9 369.6 L 229.6 369.6 M 225.9 371.6 L 229.6 371.6"/>
<path d="M 206.6 356.3 L 206.6 359.1 L 228.6 359.9 L 228.6 365.8"/>
<path d="M 214.1 300 L 207.5 348.3"/>
<path d="M 180 351.9 L 194.7 352.9 M 243.3 370.8 L 230.3 372.9 M 205.8 409 L 214.1 415.7 M 253.3 437.3 L 244.1 434"/>
<path d="M 212.6 419 L 219 412.9 L 223.2 412.2 L 226.6 412.2 L 227.7 414.5 L 226.6 416.3 Q 225.8 422.4 223.2 426.2 Q 220.1 428.4 217.1 426.9 Q 213.3 423.9 212.6 419 Z" stroke-width="1.4"/>
<ellipse cx="220.5" cy="421.4" rx="2.9" ry="4.4" transform="rotate(25 220.5 421.4)" stroke-width="1.3"/>
<ellipse cx="221" cy="421.9" rx="1.8" ry="3.2" transform="rotate(25 221 421.9)"/>
<path d="M 213.2 421.4 L 219.5 415.1 L 223.9 414 M 212.6 419 L 213.2 421.4" stroke-width="1.6"/>
<path d="M 223.2 412.2 L 224.7 414.3 L 226.6 412.2 M 224.7 414.3 L 226.6 416.3" stroke-width="1.4"/>
<path d="M 231.1 429.6 L 237.5 423.5 L 241.7 422.8 L 245.1 422.8 L 246.2 425 L 245.1 426.9 Q 244.3 433 241.7 436.8 Q 238.7 439 235.6 437.5 Q 231.9 434.5 231.1 429.6 Z" stroke-width="1.4"/>
<ellipse cx="239" cy="432" rx="2.9" ry="4.4" transform="rotate(25 239 432)" stroke-width="1.3"/>
<ellipse cx="239.6" cy="432.5" rx="1.8" ry="3.2" transform="rotate(25 239.6 432.5)"/>
<path d="M 231.7 432 L 238.1 425.7 L 242.4 424.6 M 231.1 429.6 L 231.7 432" stroke-width="1.6"/>
<path d="M 241.7 422.8 L 243.2 424.9 L 245.1 422.8 M 243.2 424.9 L 245.1 426.9" stroke-width="1.4"/>
<ellipse cx="84.5" cy="360.7" rx="1.4" ry="3.6" transform="rotate(27.9 84.5 360.7)"/>
<ellipse cx="87.2" cy="362.1" rx="1.4" ry="3.6" transform="rotate(27.9 87.2 362.1)"/>
<ellipse cx="89.8" cy="363.5" rx="1.4" ry="3.6" transform="rotate(27.9 89.8 363.5)"/>
<ellipse cx="92.5" cy="365" rx="1.4" ry="3.6" transform="rotate(27.9 92.5 365)"/>
<ellipse cx="95.2" cy="366.4" rx="1.4" ry="3.6" transform="rotate(27.9 95.2 366.4)"/>
<ellipse cx="97.8" cy="367.8" rx="1.4" ry="3.6" transform="rotate(27.9 97.8 367.8)"/>
<ellipse cx="100.5" cy="369.2" rx="1.4" ry="3.6" transform="rotate(27.9 100.5 369.2)"/>
<ellipse cx="103.2" cy="370.6" rx="1.4" ry="3.6" transform="rotate(27.9 103.2 370.6)"/>
<ellipse cx="105.8" cy="372" rx="1.4" ry="3.6" transform="rotate(27.9 105.8 372)"/>
<ellipse cx="108.5" cy="373.4" rx="1.4" ry="3.6" transform="rotate(27.9 108.5 373.4)"/>
<ellipse cx="111.1" cy="374.8" rx="1.4" ry="3.6" transform="rotate(27.9 111.1 374.8)"/>
<ellipse cx="113.8" cy="376.2" rx="1.4" ry="3.6" transform="rotate(27.9 113.8 376.2)"/>
<ellipse cx="116.5" cy="377.6" rx="1.4" ry="3.6" transform="rotate(27.9 116.5 377.6)"/>
<ellipse cx="119.1" cy="379" rx="1.4" ry="3.6" transform="rotate(27.9 119.1 379)"/>
<ellipse cx="121.8" cy="380.4" rx="1.4" ry="3.6" transform="rotate(27.9 121.8 380.4)"/>
<ellipse cx="124.5" cy="381.8" rx="1.4" ry="3.6" transform="rotate(27.9 124.5 381.8)"/>
<ellipse cx="127.1" cy="383.2" rx="1.4" ry="3.6" transform="rotate(27.9 127.1 383.2)"/>
<ellipse cx="134.9" cy="389.1" rx="1.7" ry="2.2" transform="rotate(25 134.9 389.1)"/>
<path d="M 134.9 386.9 L 138.3 388.6 L 137.8 392.4 L 134.4 391.2"/>
<path d="M 138.7 390 L 152.8 397.3 M 138.3 391.7 L 151.8 399.2"/>
<path d="M 152.3 398.3 L 160 403.1"/>
<path d="M 160 401.2 L 165.6 402.6 L 164.9 408.4 L 159.1 406.5 Z M 165.6 403.1 L 169.7 405.5 L 168.8 410.8 L 164.9 408.4 M 169.7 406 L 173.6 408.4 L 172.9 412.3 L 168.8 410.8"/>
<path d="M 162.5 401.6 L 161.5 407.5 M 167.3 404.3 L 166.3 409.6"/>
<path d="M 173.6 408.9 L 207.5 427.3 M 172.6 411.8 L 206 430.2"/>
<path d="M 107.5 381.3 L 102.7 394.6 M 148.7 400.7 L 143.8 414"/>
<path d="M 208.7 430 L 270 465.3" stroke-dasharray="16 2 2 2"/>
<path d="M 82.4 455.1 L 92 456.3 L 105.4 463.6 Q 110.7 468.4 111.4 481.7 L 105.8 490.2 L 76.3 530.1 Q 69 537.4 60.6 537.4 Q 55 533.8 55.7 516.8 L 66.6 473.7 Q 72.7 458.7 82.4 455.1 Z"/>
<path d="M 83.6 458.2 L 101.7 466 Q 106.6 472 105.8 480.5 L 75.1 522.9 Q 67.8 531.8 61.8 533.8"/>
<path d="M 92 456.3 L 94.5 459.2 L 107.8 467.2 L 110.2 472 M 105.8 480.5 L 111.4 481.7"/>
<path d="M 70.3 477.6 L 78.7 485.4 L 92.3 485.8 L 81.1 494.1 L 69 515.9 L 66.1 514.9 Q 67.1 502.3 72 492.6 Q 70.3 485.4 70.3 477.6 Z"/>
<path d="M 73.9 490.2 L 79.9 490.2"/>
<path d="M 92 484.9 L 102.9 474.5"/>
<path d="M 76.3 436.9 L 82.4 455.1"/>
<path d="M 110.2 467.2 L 168.3 478.1"/>
<ellipse cx="121.8" cy="483.4" rx="3.1" ry="3.9" transform="rotate(10.7 121.8 483.4)" stroke-width="1.4"/>
<path d="M 122.1 481.7 L 121.5 485.2 M 120.5 483.2 L 123.2 483.7" stroke-width="0.8"/>
<path d="M 124.4 485.4 L 134.2 487 L 135.9 486.1 L 134.6 484.7 L 125 482.5"/>
<path d="M 126 486 L 127.7 482.8" stroke-width="1.25"/>
<path d="M 127.7 486.3 L 129.4 483.1" stroke-width="1.25"/>
<path d="M 129.4 486.6 L 131.1 483.4" stroke-width="1.25"/>
<path d="M 131.2 487 L 132.8 483.7" stroke-width="1.25"/>
<path d="M 132.9 487.3 L 134.6 484.1" stroke-width="1.25"/>
<ellipse cx="113.8" cy="511.3" rx="3.1" ry="3.9" transform="rotate(8.8 113.8 511.3)" stroke-width="1.4"/>
<path d="M 114.1 509.5 L 113.6 513 M 112.5 511 L 115.2 511.5" stroke-width="0.8"/>
<path d="M 116.5 513.1 L 126.3 514.4 L 127.9 513.4 L 126.6 512.1 L 117 510.3"/>
<path d="M 118.1 513.7 L 119.7 510.4" stroke-width="1.25"/>
<path d="M 119.8 513.9 L 121.4 510.7" stroke-width="1.25"/>
<path d="M 121.5 514.2 L 123.1 510.9" stroke-width="1.25"/>
<path d="M 123.2 514.5 L 124.8 511.2" stroke-width="1.25"/>
<path d="M 124.9 514.7 L 126.5 511.5" stroke-width="1.25"/>
<path d="M 136.3 486.1 L 152.6 490.2 M 128.4 513.7 L 145.3 517.3" stroke-dasharray="20 3 3 3"/>
<ellipse cx="153.8" cy="490.2" rx="1.7" ry="2.4"/>
<ellipse cx="146" cy="517.5" rx="1.7" ry="2.4"/>
<path d="M 127.1 489 L 125.2 497.5 M 119.4 516.3 L 117.5 524.1 M 118.7 556.8 L 139.2 550.7"/>
<path d="M 159.2 443 L 171.3 431.6 Q 176.6 428.5 183.4 430.9 L 231.8 459.9 Q 237.1 463.6 239.1 468.4 L 244.4 484.1 Q 246.3 491.4 241 497.9 L 214.9 521.7 L 176.6 560.4 Q 173.7 563.3 168.9 563.5 L 150 564.3 Q 142.3 556.8 139.4 541 Q 138.4 536.2 140.3 526.5 Z"/>
<path d="M 173.7 433.3 L 142.3 531.8"/>
<path d="M 229.4 466 L 204 501.1"/>
<path d="M 155.6 490.2 L 170.1 477.6 Q 174.9 475.2 180.5 476.6 L 192.6 484.1 Q 197.5 490.2 197.9 501.1 L 196.7 510 L 186.3 526.5 L 171.8 548.3 Q 164 555.6 158 555.6 Q 150 553.1 147.6 543.9 Z"/>
<path d="M 158.7 492.1 L 171.3 480.5 Q 174.9 479.1 179.1 480.3 L 190.7 487 Q 194.5 492.1 195 499.9 M 158.7 492.1 L 151 542.2 Q 152.4 549.5 156.3 550.7 Q 161.6 550.7 166.5 545.9 L 183.4 524.6"/>
<path d="M 162.1 492.6 L 154.4 541 Q 155.3 546.4 158.2 547.1 M 171.3 477.6 L 174.9 475.2 L 176.6 478.1"/>
<path d="M 152.4 519.2 L 167 521.2 L 158 543.4"/>
<ellipse cx="203.3" cy="517.5" rx="3.4" ry="3.6"/>
<ellipse cx="203.7" cy="517.8" rx="1.7" ry="1.9"/>
<ellipse cx="185.3" cy="539.1" rx="3.4" ry="3.6"/>
<ellipse cx="185.8" cy="539.3" rx="1.7" ry="1.9"/>
<path d="M 173.7 545.9 L 179.8 548.3 L 185.8 544.7"/>
<path d="M 195 503.5 L 212.9 505.2 L 206.4 507.6 Z M 184.6 514.4 L 199.9 518 L 193.1 519.2 Z M 166.5 536.2 L 181.5 539.8 L 174.9 541.5 Z"/>
<path d="M 195.5 503.8 L 289.9 556.8 L 276.6 555.1 M 207.6 510 L 218.5 510"/>
<path d="M 185.8 514.9 L 240.3 546.4 L 227.5 545.9 M 167.7 536.7 L 222.1 568.1 L 208.8 566.7"/>
<ellipse cx="212.5" cy="541.5" rx="3.1" ry="3.9" transform="rotate(11.9 212.5 541.5)" stroke-width="1.4"/>
<path d="M 212.8 539.8 L 212.1 543.2 M 211.1 541.2 L 213.8 541.8" stroke-width="0.8"/>
<path d="M 215 543.5 L 224.6 545.3 L 226.3 544.4 L 225.1 543 L 215.6 540.7"/>
<path d="M 216.6 544.2 L 218.3 541" stroke-width="1.25"/>
<path d="M 218.3 544.5 L 220 541.3" stroke-width="1.25"/>
<path d="M 219.9 544.9 L 221.7 541.7" stroke-width="1.25"/>
<path d="M 221.6 545.2 L 223.3 542" stroke-width="1.25"/>
<path d="M 223.3 545.6 L 225 542.4" stroke-width="1.25"/>
<ellipse cx="194.3" cy="563.3" rx="3.1" ry="3.9" transform="rotate(11.9 194.3 563.3)" stroke-width="1.4"/>
<path d="M 194.7 561.6 L 193.9 565 M 193 563 L 195.6 563.6" stroke-width="0.8"/>
<path d="M 196.9 565.3 L 206.4 567 L 208.1 566.2 L 206.9 564.8 L 197.5 562.5"/>
<path d="M 198.4 566 L 200.2 562.8" stroke-width="1.25"/>
<path d="M 200.1 566.3 L 201.8 563.1" stroke-width="1.25"/>
<path d="M 201.8 566.7 L 203.5 563.5" stroke-width="1.25"/>
<path d="M 203.4 567 L 205.2 563.8" stroke-width="1.25"/>
<path d="M 205.1 567.4 L 206.8 564.2" stroke-width="1.25"/>
<path d="M 254.1 551.2 L 275.9 552.2 L 273 558 L 251.2 556 Z"/>
<path d="M 256 552.6 L 273.5 553.6 L 272 556 L 254.6 554.6 Z" stroke-width="1.6"/>
<path d="M 260.9 560.4 L 257.2 570.1 M 220.9 545.9 L 224.6 553.1 M 201.6 567.7 L 201.6 574.9"/>
<path d="M 135 472 L 166.5 476.9 M 135 515.6 L 166.5 521.2" stroke-dasharray="20 3 3 3"/>
<path d="M 172.3 608.7 L 162.5 617.6 L 150.6 635.7 Q 144.3 646.2 145.1 653.1 Q 146.3 662.9 152.6 670.8 L 160.1 678.3"/>
<path d="M 172.3 608.7 L 190.5 629"/>
<path d="M 162.5 621.5 Q 171.3 639.3 171.9 668.9 M 154.6 632.4 Q 159.5 649.1 160.9 669.8 M 148.7 659 Q 154.6 664.9 161.5 667.9 M 145.7 649.1 Q 150.6 647.2 156.5 632.4"/>
<ellipse cx="161.1" cy="654.3" rx="1.4" ry="1.8"/>
<path d="M 186.1 630.4 Q 190.1 626.5 194.4 627.9 Q 196 629.4 193 631"/>
<path d="M 190.1 630.4 L 198.3 636.5 Q 203.9 643.2 211.7 647.2 L 227.9 658.2 Q 239.3 664.9 255.3 667.3" stroke-width="1.5"/>
<path d="M 186.5 631 L 182.6 649.1 L 190.5 655.5 L 204.3 665.7 L 211.7 672 Q 227.5 679.7 255.3 687"/>
<path d="M 193 632.4 L 200.9 639.3 L 211.7 649.1 L 227.5 660 L 251.2 668.9"/>
<path d="M 202.9 655.1 L 204.8 647.2 M 190.1 655.5 L 196 637.3" stroke-dasharray="5 4"/>
<path d="M 163.4 675.2 L 158.9 706.3 Q 159.5 716.2 162.1 722.5 L 168 736.3 Q 170.7 740.8 176.3 741.4 L 190.5 740.2 Q 198.3 738.8 204.3 735.1 L 220 720.1 L 235.8 700.4 L 251.2 685"/>
<path d="M 160.9 720.1 L 166.8 737.9 Q 170 743 176.7 743.4 L 192 742.2 Q 200.9 740.2 207.8 736.3"/>
<path d="M 167.4 676.7 L 164.4 708.3 L 172.3 728 L 184.1 716.2 L 188.1 700.4 M 172.3 728 L 190.1 731.9 L 203.9 718.1 L 215.7 706.3"/>
<path d="M 176.3 700.4 L 184.1 682.7 L 199.9 668.9 L 205.8 670.8 L 190.1 688.6 L 184.1 682.7 M 178.2 706.3 L 190.1 710.3 L 196 700.4 L 211.7 678.7 M 193 692.5 L 199.9 690.5 L 194 697.4 M 199.9 697.4 L 202.9 690.5 L 205.8 682.7"/>
<path d="M 207.8 710.3 L 211.7 708.3 L 213.7 713.2 L 203.9 718.1 M 190.1 726 L 203.9 728"/>
<ellipse cx="186.1" cy="683.1" rx="1.2" ry="1.6"/>
<ellipse cx="209.8" cy="697.4" rx="1.2" ry="1.6"/>
<ellipse cx="169.4" cy="671.8" rx="3" ry="3.2"/>
<ellipse cx="170" cy="671.8" rx="1.6" ry="2"/>
<ellipse cx="161.5" cy="698.4" rx="3" ry="3.2"/>
<ellipse cx="162.1" cy="698.4" rx="1.6" ry="2"/>
<ellipse cx="217.7" cy="698.4" rx="3" ry="3.2"/>
<ellipse cx="218.3" cy="698.4" rx="1.6" ry="2"/>
<ellipse cx="198.9" cy="721.1" rx="3" ry="3.2"/>
<ellipse cx="199.5" cy="721.1" rx="1.6" ry="2"/>
<path d="M 172.3 609.7 L 176.3 619.6 L 188.1 621.5 M 190.1 639.3 L 165.4 712.2 M 172.3 675.8 L 182.2 672.8 L 186.1 655.1 M 221.6 700.4 L 221.2 777.3 M 199.9 688.6 L 185.1 682.7 M 211.7 696.5 L 229.5 684.6 L 247.2 668.9 M 227.5 676.7 L 219.6 700.4" stroke-dasharray="5 4"/>
<path d="M 207.8 736.3 L 223.6 726 Q 231.5 719.1 239.3 718.1 L 255.3 716.2"/>
<ellipse cx="236.4" cy="731" rx="8.3" ry="4.7" transform="rotate(-20 236.4 731)"/>
<ellipse cx="237" cy="731.6" rx="5.9" ry="3" transform="rotate(-20 237 731.6)"/>
<path d="M 203.3 608.5 L 206.4 606.4 L 212.7 609.7 L 212.7 615 L 210.2 616.6 L 203.7 613.1 Z"/>
<path d="M 205.6 608.9 L 211.4 611.3 L 211.4 615.2 L 205.6 612.9 Z" stroke-width="1.4"/>
<path d="M 203.3 608.5 L 205.6 608.9 M 206.4 606.4 L 207 609.3 M 210.2 616.6 L 211.4 615.2"/>
<ellipse cx="208.4" cy="612.1" rx="1" ry="1.2"/>
<ellipse cx="215.3" cy="626.5" rx="2.6" ry="3.4"/>
<ellipse cx="215.3" cy="626.5" rx="1.2" ry="1.8"/>
<path d="M 215.9 623.1 L 221.2 623.7 Q 223.6 626.5 221.2 630.4 L 215.9 629.8"/>
<ellipse cx="152.2" cy="741.4" rx="2.6" ry="3.4"/>
<ellipse cx="152.2" cy="741.4" rx="1.2" ry="1.8"/>
<path d="M 152.8 738.1 L 158.1 738.7 Q 160.5 741.4 158.1 745.4 L 152.8 744.8"/>
<ellipse cx="194.4" cy="757.6" rx="2.6" ry="3.4"/>
<ellipse cx="194.4" cy="757.6" rx="1.2" ry="1.8"/>
<path d="M 195 754.2 L 200.3 754.8 Q 202.7 757.6 200.3 761.5 L 195 760.9"/>
<ellipse cx="130.5" cy="683.6" rx="3.5" ry="2"/>
<ellipse cx="130.5" cy="685" rx="3.5" ry="2"/>
<path d="M 128.9 682.7 L 128.9 675.8 L 132.1 675.8 L 132.1 682.7"/>
<path d="M 128.5 677.1 L 132.5 676.4 M 128.5 679.1 L 132.5 678.3 M 128.5 681.1 L 132.5 680.3" stroke-width="1.4"/>
<path d="M 172.3 608.7 L 184.1 620.6 L 193 622.5 L 193 605.8 L 203.3 609.7"/>
<path d="M 212.7 625.5 L 202.9 625.5 L 197.9 634.4"/>
<path d="M 253.1 621.5 L 233.4 614.6 L 217.7 649.1"/>
<path d="M 131.9 674.8 L 131.9 665.9 L 160.5 676.7 L 166.8 673.2"/>
<path d="M 125 692.5 L 158.5 698.4"/>
<path d="M 160.5 719.1 L 142.7 737.9 L 149.6 739.8 M 198.9 741.8 L 185.1 753.6 L 192 756.6 M 190.1 745.8 L 174.3 770"/>
<path d="M 154.6 745.8 L 151.6 757.6 M 198.9 761.9 L 198.9 770"/>
<path d="M 255.3 629.4 L 247.2 629.4 L 227.9 676.7 M 255.3 652.1 L 251.2 653.1 L 241.7 684.6"/>
<path d="M 223.6 615.6 L 219.2 622.5 M 214.9 598.5 L 209.4 607.5"/>
<path d="M 225 658.3 L 244.7 666.2 L 262.5 668.2" stroke-width="1.5"/>
<path d="M 262.5 668.2 Q 268.8 668.8 269.6 672.7 Q 269.4 678 261.5 685.9 L 250.6 688.9"/>
<path d="M 225 661.7 L 244.7 669.1 L 261.5 671.1 M 268 679 L 284.1 682 L 303.9 688.9 L 321.6 694.8 Q 329.5 700.7 330.7 704.2 Q 330.5 709.6 323.6 714.5"/>
<path d="M 323.6 714.5 Q 319.2 720.4 321.2 725.3 Q 324.6 728.3 327.9 725.9 L 326.7 732.2 L 319.6 736.6 L 311.7 740.5 Q 302.9 745 293 742.5 L 284.1 736.6 L 270.7 730.7 L 260.5 727.7"/>
<path d="M 324.6 707.6 Q 320.6 716.5 323.2 724.3 M 327.5 709.6 Q 324.6 717.4 326.5 724.3"/>
<path d="M 297 733.4 L 322 716.5 M 297 733.4 Q 296 737.8 298.9 738.5 L 307.8 736.2 L 323.6 728.3"/>
<path d="M 317.7 701.1 Q 303.9 713.5 280.2 718.4 L 246.3 720.4"/>
<path d="M 270 726.3 L 292 727.7 L 299.9 720.8 M 272.3 728.3 L 290.1 732.2"/>
<path d="M 260.9 729.1 L 284.1 738.5 L 294.4 744.5"/>
<ellipse cx="306.8" cy="738.1" rx="1.6" ry="1"/>
<path d="M 236.8 720.4 L 246.7 717.4 L 256.5 728.3 M 228.9 742.1 L 243.7 748 L 248.7 740.1" stroke-dasharray="5 4"/>
<path d="M 225 679 L 248.7 682.9 L 250.6 688.9 L 232.9 696.7 L 225 698.7 M 225 717.4 L 240.8 714.5"/>
<path d="M 248.7 730.3 L 252.6 733.2 L 246.7 740.1" stroke-dasharray="5 4"/>
<path d="M 310.8 690.4 L 319.6 692.8 L 317.7 697.7 L 311.7 695.8 Z" stroke-dasharray="5 4"/>
<path d="M 279.6 666.6 L 282.6 664.5 L 288.6 667.7 L 288.6 672.7 L 286.2 674.2 L 280 670.9 Z"/>
<path d="M 281.9 666.9 L 287.3 669.2 L 287.3 672.9 L 281.9 670.7 Z" stroke-width="1.4"/>
<path d="M 279.6 666.6 L 281.9 666.9 M 282.6 664.5 L 283.2 667.3 M 286.2 674.2 L 287.3 672.9"/>
<ellipse cx="284.5" cy="669.9" rx="0.9" ry="1.1"/>
<ellipse cx="264.4" cy="654.4" rx="2.6" ry="3.4"/>
<ellipse cx="264.4" cy="654.4" rx="1.2" ry="1.8"/>
<path d="M 265 651 L 270.3 651.6 Q 272.7 654.4 270.3 658.3 L 265 657.7"/>
<ellipse cx="264.4" cy="624.8" rx="2.3" ry="2.9" transform="rotate(-161.8 264.4 624.8)" stroke-width="1.4"/>
<path d="M 264 626 L 264.8 623.5 M 265.4 625.1 L 263.5 624.5" stroke-width="0.8"/>
<path d="M 262.8 622.6 L 252.5 619.5 L 250.6 620.3 L 251.7 621.9 L 261.9 625.6"/>
<path d="M 261.2 621.7 L 259 625" stroke-width="1.25"/>
<path d="M 259.8 621.3 L 257.5 624.5" stroke-width="1.25"/>
<path d="M 258.3 620.8 L 256.1 624" stroke-width="1.25"/>
<path d="M 256.9 620.3 L 254.6 623.6" stroke-width="1.25"/>
<path d="M 255.5 619.8 L 253.2 623.1" stroke-width="1.25"/>
<path d="M 254 619.4 L 251.7 622.6" stroke-width="1.25"/>
<ellipse cx="282.2" cy="641.5" rx="2.3" ry="2.9" transform="rotate(-162.6 282.2 641.5)" stroke-width="1.4"/>
<path d="M 281.8 642.8 L 282.6 640.3 M 283.2 641.9 L 281.2 641.2" stroke-width="0.8"/>
<path d="M 280.6 639.4 L 270.3 636.5 L 268.4 637.2 L 269.5 638.9 L 279.6 642.4"/>
<path d="M 278.9 638.5 L 276.7 641.8" stroke-width="1.25"/>
<path d="M 277.5 638.1 L 275.3 641.4" stroke-width="1.25"/>
<path d="M 276.1 637.6 L 273.8 640.9" stroke-width="1.25"/>
<path d="M 274.6 637.2 L 272.4 640.5" stroke-width="1.25"/>
<path d="M 273.2 636.7 L 271 640" stroke-width="1.25"/>
<path d="M 271.7 636.3 L 269.5 639.6" stroke-width="1.25"/>
<path d="M 235.9 766.1 L 238.7 764.2 L 244.4 767.2 L 244.4 772 L 242.1 773.4 L 236.3 770.2 Z"/>
<path d="M 238 766.5 L 243.2 768.6 L 243.2 772.1 L 238 770 Z" stroke-width="1.4"/>
<path d="M 235.9 766.1 L 238 766.5 M 238.7 764.2 L 239.3 766.8 M 242.1 773.4 L 243.2 772.1"/>
<ellipse cx="240.5" cy="769.3" rx="0.9" ry="1.1"/>
<path d="M 272.3 771.7 L 276.7 767.7 L 280.6 768.7 L 280.6 774.6 L 276.7 777.6 L 272.7 778 Z M 276.7 767.7 L 276.7 777.6 M 272.3 771.7 L 276.7 772.7"/>
<ellipse cx="304.3" cy="785.5" rx="3.5" ry="2"/>
<ellipse cx="304.3" cy="786.8" rx="3.5" ry="2"/>
<path d="M 302.7 784.5 L 302.7 777.6 L 305.8 777.6 L 305.8 784.5"/>
<path d="M 302.3 779 L 306.2 778.2 M 302.3 780.9 L 306.2 780.1 M 302.3 782.9 L 306.2 782.1" stroke-width="1.4"/>
<path d="M 289.1 676 L 311.7 690.8"/>
<path d="M 306.2 746 L 304.8 775.6 M 260.9 726.3 L 261.5 790" stroke-dasharray="30 4 4 4"/>
<path d="M 273.3 775.6 L 261.5 786.5 M 314.7 741.1 L 329.5 757.9 M 277.2 628.7 L 276.7 637.6 M 290.1 650.4 L 273.3 653.4 M 298.9 663.2 L 289.1 666.2 M 259.5 610 L 258.5 619.9"/>
<path d="M 225 631.7 L 233.9 614.9 L 250.6 620.8 M 267.4 636.6 L 249.6 629.7 L 236.8 675.1 M 262.5 652.4 L 251.6 652.4 L 246.7 665.2"/>
<path d="M 236.8 675.1 L 228.9 696.7" stroke-dasharray="5 4"/>
<path d="M 243.7 773.6 L 245.7 781.5 M 279.2 778.6 L 281.2 786.5 M 225 777.6 L 235.8 771.7 M 305.8 788.4 L 317.7 799.3"/>
<path d="M 90.6 810.5 L 101.7 790.1 L 104.1 793.8 L 124.5 782.5 L 127.4 784 L 127.4 799.1 L 104.9 812.4 L 104.6 817.1 Z" stroke-width="1.3"/>
<path d="M 104.1 793.8 L 105.6 796.3 L 127.4 784.2 M 105.6 796.3 L 105 812.1 M 93.8 810.2 L 102.8 793.9 M 106.5 797.7 L 126.2 786.9 L 126.2 798.4"/>
<text transform="translate(105.4 810.6) rotate(-29) skewX(-12) scale(0.6 1)" style="font-weight:bold;font-size:16.5px;text-anchor:start;stroke:#111;stroke-width:0.9px" fill="#111">FWD</text>
<ellipse cx="207.9" cy="793.1" rx="3" ry="3.7" transform="rotate(-159.1 207.9 793.1)" stroke-width="1.4"/>
<path d="M 207.3 794.6 L 208.5 791.5 M 209.1 793.5 L 206.7 792.6" stroke-width="0.8"/>
<path d="M 206.1 790.1 L 196.1 786.7 L 193.5 787.6 L 194.9 789.9 L 204.6 794.1"/>
<path d="M 204 788.8 L 200.7 793" stroke-width="1.25"/>
<path d="M 202.5 788.3 L 199.3 792.5" stroke-width="1.25"/>
<path d="M 201 787.7 L 197.8 791.9" stroke-width="1.25"/>
<path d="M 199.6 787.2 L 196.3 791.4" stroke-width="1.25"/>
<path d="M 198.1 786.6 L 194.9 790.8" stroke-width="1.25"/>
<path d="M 185.9 745.2 L 171.1 779.1 L 193.5 787.6"/>
<path d="M 202.8 798.2 L 200.7 806.6 M 126.6 678.3 L 111.8 674"/>
<path d="M 145.2 563.5 L 80 683.8 L 158.8 697.8" stroke-dasharray="40 3 3 3"/>
<path d="M 432.7 602.7 L 435.4 600.6 L 439.5 601.6 L 440.6 605.7 L 438.1 608.8 L 433.8 608.4 L 432 605.7 Z"/>
<path d="M 435.4 600.6 L 435.7 604 L 439.5 604.7 L 440.6 605.7 M 435.7 604 L 432.7 606.1"/>
<path d="M 439.8 602 L 446.3 598.9 L 447.1 601.6 L 440.6 605.1"/>
<path d="M 441.8 604.5 L 441.3 601.4"/>
<path d="M 443.3 603.8 L 442.8 600.7"/>
<path d="M 444.8 603 L 444.3 600"/>
<path d="M 446.3 602.3 L 445.8 599.2"/>
<path d="M 447.7 599.3 L 455.8 594.5" stroke-dasharray="30 4 4 4"/>
<path d="M 427.3 585.7 L 435.4 600.6"/>
<path d="M 455.2 585.7 Q 456.5 583.3 460.2 583.9 L 465.7 588.8 Q 467.4 591.8 466.5 595.2 L 464 599.3 L 459.9 598.3 L 457.5 590.4 Z"/>
<path d="M 457.5 590.4 L 461.3 589.1 L 465.7 588.8 M 461.3 589.1 L 462.7 597.2 M 456.5 587 L 458.3 588.4" stroke-width="1.3"/>
<path d="M 455.8 602.7 L 459.9 600.6 L 466.7 602 L 467.4 606.8 L 462 608.8 L 457.2 607.4 Z M 459.9 600.6 L 460.6 608.1 M 456.5 613.6 L 461.3 611.5 L 468.1 612.2 L 468.4 617 L 462.7 619 L 457.5 617.7 Z M 461.3 611.5 L 462 619" stroke-width="1.4"/>
<path d="M 462.7 602 L 463.3 614.9 M 464.7 602.7 L 465.7 613.6"/>
<ellipse cx="468.1" cy="619" rx="3" ry="3.5" transform="rotate(-20 468.1 619)"/>
<ellipse cx="468.4" cy="619.3" rx="1.4" ry="1.8" transform="rotate(-20 468.4 619.3)"/>
<path d="M 457.2 603.8 Q 442.2 610.8 435.4 620.7 M 458.8 607.4 Q 446.3 613.6 439.8 623.4"/>
<path d="M 430.2 635.1 Q 425.9 644.2 424 652.6 M 434.3 638.1 Q 429.3 646.2 427.7 652.6"/>
<path d="M 455.8 615.2 Q 446.3 622.4 441.6 629.9 M 458.8 619 Q 450.7 625.1 446.6 631.5"/>
<path d="M 435.4 646.2 Q 432.4 651.7 431.3 655.4 M 440.9 646.9 Q 436.5 652.4 434.9 656.3"/>
<path d="M 435.4 619.7 L 440.2 622.4 L 434.7 635.6 L 429.7 634 Z M 434.1 623.1 L 438.8 625.6 M 432 628.5 L 436.8 631 M 433.4 625.8 L 435.4 630.6"/>
<path d="M 441.6 629.2 L 447 631.5 L 440.9 645.2 L 435.4 643.5 Z M 440.2 632.6 L 445.2 635.1 M 437.5 638.1 L 442.9 640.5 M 439.2 635.4 L 440.9 640.1"/>
<path d="M 468.1 601.6 L 483.1 595.6 Q 487.8 595.2 488.8 598.6 L 489.2 604 M 468.4 603.2 L 483.8 597.2 Q 486.9 597 487.2 599.3 L 487.4 604"/>
<path d="M 484.2 604.3 L 489.2 605.7 L 488.5 608.8 L 483.8 607.4 Z M 486.1 610.8 L 491.9 612.5 L 491.2 616 L 485.8 614.3 Z"/>
<path d="M 469.5 612.2 Q 476.3 611.5 480.4 615.6 Q 485.8 622.4 492.6 617.7 M 469.7 613.8 Q 476 613.6 479.3 617 Q 485.8 624.5 493.3 619"/>
<path d="M 425.4 653.6 Q 424.2 667.2 423.7 678.1 Q 423.3 682.7 419.5 685.8 L 404.5 695.8"/>
<path d="M 433.1 656.3 Q 431.9 667.2 431.3 679 Q 430.9 683.6 426.8 687.2 L 405.9 699.9"/>
<path d="M 392.8 698.5 Q 393.7 694.3 398.1 694.3 L 403.4 697.5 L 404.9 705.2 L 406.6 706.4 L 406.6 711.3 L 403.4 710.6 L 401.7 713.7 L 396.2 713 Q 392 707.7 392.8 698.5 Z"/>
<path d="M 398.1 694.3 L 399.3 710.1 L 396.2 713 M 399.3 702.8 L 404.9 705.2 M 394.5 696.8 L 398.1 699.2 M 395.2 700.4 L 398.6 702.8 M 400.5 696.8 L 401.7 708.9" stroke-width="1.7"/>
<ellipse cx="405.8" cy="708.9" rx="1.5" ry="1.9"/>
<path d="M 394.5 681 L 398.1 694.3"/>
<path d="M 374.1 746.9 Q 373.7 743.9 376.5 743.5 Q 379.3 743.9 378.9 746.3 L 379.3 756 Q 379.8 759.6 384.4 761.2"/>
<path d="M 374.1 746.9 L 374.7 757.8 Q 375.7 762.6 383.2 764.1"/>
<path d="M 383.8 762.6 L 385 753.2 L 389.2 748.7 L 393.4 747.5 L 393.8 741.4 L 397.4 738.4 L 406.8 739.6 Q 409.5 741.4 409.5 744.5 L 407.4 754.1"/>
<path d="M 393.8 741.4 Q 395.3 743.3 397.9 743.3 L 401.3 740.2 M 393.4 747.5 L 396.7 747.9 L 401.3 743.3 M 389.2 748.7 L 391 750.3" stroke-width="1.4"/>
<ellipse cx="404" cy="746.6" rx="2.1" ry="2.5" transform="rotate(15 404 746.6)"/>
<path d="M 386.2 764.1 L 407.4 754.1 M 385 753.2 L 386.8 755.4"/>
<path d="M 383.8 762.6 L 387 767.7 L 401.3 776.2 L 405.2 775.3 M 388 765.6 L 401.9 773.8" stroke-width="1.3"/>
<path d="M 400.1 764.1 L 406.8 759 L 413.4 759 L 417 761.4 L 421.9 754.4 Q 424.3 752.7 427 753.5 Q 430.1 755.4 429.8 758.4 L 427.9 763.8 L 423.1 767.5 L 418.3 767.5 L 405.2 775.3 L 401.3 774.7 Z"/>
<path d="M 400.1 764.1 L 401.3 767.5 L 401.3 774.7 M 401.3 767.5 L 403.7 762.6" stroke-width="1.4"/>
<ellipse cx="408" cy="765.6" rx="2.4" ry="2.7" stroke-width="1.4"/>
<ellipse cx="408.2" cy="765.9" rx="1.1" ry="1.3"/>
<ellipse cx="424.3" cy="759" rx="1.7" ry="2.1"/>
<ellipse cx="424.3" cy="766.2" rx="0.6" ry="0.7"/>
<path d="M 384.1 769.4 L 434.4 741.1" stroke-dasharray="40 2.5 3 2.5"/>
<path d="M 433.2 739.6 L 440.5 736.2 L 441.7 739.6 L 434.4 743 Z"/>
<ellipse cx="444.1" cy="734.8" rx="1.9" ry="3.4" transform="rotate(-28 444.1 734.8)"/>
<path d="M 446 732.3 L 456.2 727.5 M 447.5 736.2 L 457.6 730.9"/>
<ellipse cx="457.2" cy="728.7" rx="0.8" ry="2.2" transform="rotate(-30 457.2 728.7)"/>
<ellipse cx="459.1" cy="727.6" rx="0.8" ry="2.2" transform="rotate(-30 459.1 727.6)"/>
<ellipse cx="461" cy="726.5" rx="0.8" ry="2.2" transform="rotate(-30 461 726.5)"/>
<ellipse cx="463" cy="725.4" rx="0.8" ry="2.2" transform="rotate(-30 463 725.4)"/>
<ellipse cx="464.9" cy="724.2" rx="0.8" ry="2.2" transform="rotate(-30 464.9 724.2)"/>
<ellipse cx="466.8" cy="723.1" rx="0.8" ry="2.2" transform="rotate(-30 466.8 723.1)"/>
<ellipse cx="468.8" cy="722" rx="0.8" ry="2.2" transform="rotate(-30 468.8 722)"/>
<ellipse cx="470.7" cy="720.9" rx="0.8" ry="2.2" transform="rotate(-30 470.7 720.9)"/>
<ellipse cx="472.6" cy="719.8" rx="0.8" ry="2.2" transform="rotate(-30 472.6 719.8)"/>
<ellipse cx="474.3" cy="718.5" rx="1.7" ry="2.9" transform="rotate(-28 474.3 718.5)"/>
<path d="M 476 716.4 L 500 702.8 M 477 718.8 L 500 705.2"/>
<path d="M 478.6 717.5 L 477.8 714.4"/>
<path d="M 480.4 716.4 L 479.7 713.3"/>
<path d="M 482.3 715.3 L 481.6 712.2"/>
<path d="M 484.2 714.3 L 483.5 711.2"/>
<path d="M 486 713.2 L 485.3 710.1"/>
<path d="M 487.9 712.1 L 487.2 709"/>
<path d="M 489.8 711 L 489.1 708"/>
<path d="M 491.7 710 L 490.9 706.9"/>
<path d="M 493.5 708.9 L 492.8 705.8"/>
<path d="M 495.4 707.8 L 494.7 704.7"/>
<path d="M 497.3 706.7 L 496.6 703.7"/>
<path d="M 499.1 705.7 L 498.4 702.6"/>
<ellipse cx="503.3" cy="699.9" rx="1.6" ry="4.2" transform="rotate(-28.1 503.3 699.9)"/>
<ellipse cx="506.8" cy="698" rx="1.6" ry="4.2" transform="rotate(-28.1 506.8 698)"/>
<ellipse cx="510.3" cy="696.2" rx="1.6" ry="4.2" transform="rotate(-28.1 510.3 696.2)"/>
<ellipse cx="513.8" cy="694.3" rx="1.6" ry="4.2" transform="rotate(-28.1 513.8 694.3)"/>
<ellipse cx="517.3" cy="692.4" rx="1.6" ry="4.2" transform="rotate(-28.1 517.3 692.4)"/>
<ellipse cx="520.8" cy="690.6" rx="1.6" ry="4.2" transform="rotate(-28.1 520.8 690.6)"/>
<ellipse cx="524.3" cy="688.7" rx="1.6" ry="4.2" transform="rotate(-28.1 524.3 688.7)"/>
<ellipse cx="527.8" cy="686.9" rx="1.6" ry="4.2" transform="rotate(-28.1 527.8 686.9)"/>
<ellipse cx="531.3" cy="685" rx="1.6" ry="4.2" transform="rotate(-28.1 531.3 685)"/>
<ellipse cx="534.7" cy="683.1" rx="1.6" ry="4.2" transform="rotate(-28.1 534.7 683.1)"/>
<ellipse cx="538.2" cy="681.3" rx="1.6" ry="4.2" transform="rotate(-28.1 538.2 681.3)"/>
<ellipse cx="541.7" cy="679.4" rx="1.6" ry="4.2" transform="rotate(-28.1 541.7 679.4)"/>
<ellipse cx="545.2" cy="677.6" rx="1.6" ry="4.2" transform="rotate(-28.1 545.2 677.6)"/>
<ellipse cx="548.7" cy="675.7" rx="1.6" ry="4.2" transform="rotate(-28.1 548.7 675.7)"/>
<ellipse cx="553.9" cy="670.2" rx="2.4" ry="3.9" transform="rotate(-28 553.9 670.2)"/>
<path d="M 552.3 666.6 L 558.4 663.9 Q 563.2 665.7 562 671.8 L 556 674.2"/>
<ellipse cx="554.8" cy="669.9" rx="0.9" ry="1.2"/>
<path d="M 566.9 659 L 571.1 656 L 576.5 656.6 L 579.6 660.9 L 577.8 665.7 L 572.9 667.5 L 568.1 665.1 Z M 571.1 656 L 572.3 660.3 L 577.8 661.5 M 572.3 660.3 L 568.7 663.9"/>
<ellipse cx="568.1" cy="662.7" rx="2.4" ry="3.6" transform="rotate(-25 568.1 662.7)"/>
<ellipse cx="568.1" cy="662.7" rx="1.2" ry="2.1" transform="rotate(-25 568.1 662.7)"/>
<path d="M 540.2 652.7 L 553.9 665.7 M 562.9 642.1 L 570.5 657.2 M 538.7 707.2 L 528.1 690.5 M 487.3 732.9 L 478.2 719.3 M 469.1 794.9 L 460.1 779.8 M 446.4 804 L 437.4 787.3 M 408.6 811.5 L 407.7 801 M 411.6 728.3 L 407.1 740.4"/>
<path d="M 439.8 764.3 L 452.5 771 M 438 767.7 L 451 774.6"/>
<path d="M 438.9 768.4 L 441.9 765.2"/>
<path d="M 441.3 769.6 L 444.3 766.4"/>
<path d="M 443.7 770.8 L 446.7 767.6"/>
<path d="M 446.1 772 L 449.2 768.8"/>
<path d="M 448.6 773.2 L 451.6 770"/>
<path d="M 453.1 771.6 L 457 771 L 461.6 774 L 462.2 778.9 L 458.5 781.9 L 454 780.7 L 451.3 776.4 Z"/>
<ellipse cx="457.9" cy="777" rx="2.7" ry="3"/>
<path d="M 426.8 776.7 L 433.7 780.1 M 425.3 779.8 L 432.5 783.4"/>
<path d="M 426.1 780.3 L 428.6 777.5"/>
<path d="M 428.7 781.5 L 431.2 778.7"/>
<path d="M 431.3 782.7 L 433.8 779.9"/>
<path d="M 433.7 778.9 L 438 778.9 L 441 781.9 L 440.4 786.1 L 436.8 787.9 L 433.1 785.5 L 431.9 781.9 Z"/>
<ellipse cx="437.4" cy="783.7" rx="2.1" ry="2.4"/>
<path d="M 400.4 794.9 Q 400.4 790.4 404.1 789.8 L 404.1 787.3 L 408.9 787.3 L 408.9 789.8 Q 412.5 791 412.5 795.8 L 412.5 799.4 Q 407.1 803.1 400.4 799.4 Z M 400.4 795.8 Q 406.5 799.4 412.5 795.8"/>
<path d="M 405.6 778.3 L 406.5 787.3" stroke-dasharray="10 2 2 2"/>
<path d="M 416.8 769.2 L 425.3 777.4 M 428.3 761.6 L 438.9 766.8" stroke-dasharray="10 2 2 2"/>
<path d="M 445.6 278.6 L 386.4 319.7" stroke-dasharray="26 2 2 2"/>
<path d="M 358.2 339 L 331.1 357"/>
<path d="M 295 273 L 375 217.7"/>
<path d="M 269.3 291.6 L 291 275.9"/>
<path d="M 347 288.3 L 351.9 284.7 L 351.9 317.2"/>
<path d="M 362.4 200.7 L 370.3 195.9 L 376.3 198.9 L 376.3 201.3 L 368.4 206.1 L 362.4 203.1 Z M 362.4 200.7 L 368.4 203.7 L 376.3 198.9 M 368.4 203.7 L 368.4 206.1"/>
<ellipse cx="369.7" cy="199.9" rx="1.9" ry="1.2" transform="rotate(-20 369.7 199.9)"/>
<path d="M 360 183.2 L 364.2 198.9"/>
<path d="M 328.6 281.7 L 333.2 292.7"/>
<path d="M 251.7 288.3 L 256.7 296.7"/>
</g>
<g>
<text x="152.5" y="140.9">41</text>
<text x="184.7" y="141.9">6</text>
<text x="202.7" y="225.9">8</text>
<text x="181.3" y="234.5">9</text>
<text x="186.3" y="293.2">9</text>
<text x="255.5" y="95.9">36</text>
<text x="239.2" y="179.2">5</text>
<text x="317" y="217.5">7</text>
<text x="247.5" y="285.9">32</text>
<text x="325.8" y="280.5">32</text>
<text x="358.8" y="180.9">31</text>
<text x="417.5" y="122.2">30</text>
<text x="380" y="258.2">30</text>
<text x="475" y="114.2">34</text>
<text x="549.5" y="100.5">33</text>
<text x="491" y="158.2">44</text>
<text x="513.3" y="198.2">29</text>
<text x="572.7" y="200.5">30</text>
<text x="587.7" y="275.9">35</text>
<text x="507" y="310.5">31</text>
<text x="168" y="355.9">10</text>
<text x="98.8" y="406.5">16</text>
<text x="141.2" y="425.9">15</text>
<text x="200" y="407.9">14</text>
<text x="73.3" y="435.5">25</text>
<text x="124.8" y="507.2">27</text>
<text x="117.5" y="535.5">27</text>
<text x="107.8" y="564.5">26</text>
<text x="200.8" y="586.5">27</text>
<text x="216" y="596.5">24</text>
<text x="244.2" y="324.5">32</text>
<text x="298.5" y="322.2">32</text>
<text x="272.3" y="341.5">3</text>
<text x="250.7" y="375.5">11</text>
<text x="347.7" y="386.2">2</text>
<text x="433.3" y="318.7">1</text>
<text x="262" y="442.2">14</text>
<text x="304.8" y="520.5">45</text>
<text x="227" y="563.9">27</text>
<text x="255" y="582.2">43</text>
<text x="423.3" y="582.2">12</text>
<text x="260.8" y="607.2">23</text>
<text x="479.2" y="329.5">30</text>
<text x="531.2" y="353.9">4</text>
<text x="564.3" y="369.5">6</text>
<text x="569.8" y="410.2">42</text>
<text x="104.8" y="678.9">22</text>
<text x="150.8" y="767.2">28</text>
<text x="197.5" y="781.2">28</text>
<text x="197.5" y="816.2">23</text>
<text x="278.3" y="622.9">23</text>
<text x="299.2" y="652.2">28</text>
<text x="307.7" y="666.9">24</text>
<text x="392.2" y="679.5">13</text>
<text x="415.2" y="726.2">37</text>
<text x="334.7" y="770.5">21</text>
<text x="246.7" y="793.9">24</text>
<text x="282.5" y="798.9">24</text>
<text x="327.7" y="814.5">22</text>
<text x="410.3" y="822.9">38</text>
<text x="225" y="611.2">28</text>
<text x="557.5" y="639.5">19</text>
<text x="533.3" y="650.5">20</text>
<text x="540.7" y="718.9">18</text>
<text x="492.2" y="743.2">17</text>
<text x="472.7" y="804.9">39</text>
<text x="448.5" y="814.5">40</text>
</g>
</svg>
</body></html>
